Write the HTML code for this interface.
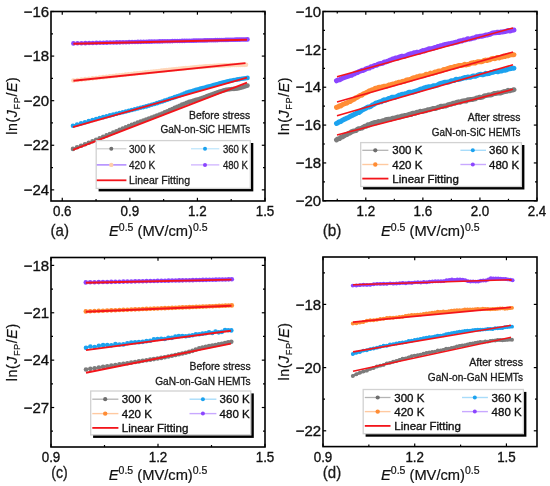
<!DOCTYPE html><html><head><meta charset="utf-8"><style>html,body{margin:0;padding:0;background:#fff}svg{display:block;will-change:transform;filter:blur(0.25px)}</style></head><body><svg width="550" height="486" viewBox="0 0 550 486" font-family='"Liberation Sans", sans-serif'><rect width="550" height="486" fill="#fff"/><polyline points="73.00,148.90 77.10,147.30 81.10,145.74 84.99,144.23 88.79,142.74 92.51,141.26 96.14,139.79 99.69,138.32 103.18,136.86 106.59,135.41 109.94,133.98 113.23,132.58 116.47,131.20 119.65,129.86 122.78,128.55 125.86,127.27 128.89,126.04 131.88,124.85 134.82,123.71 137.72,122.62 140.59,121.57 143.41,120.54 146.20,119.53 148.96,118.54 151.68,117.54 154.36,116.54 157.02,115.52 159.65,114.49 162.24,113.43 164.81,112.34 167.35,111.23 169.87,110.10 172.35,108.98 174.82,107.86 177.26,106.77 179.67,105.70 182.07,104.67 184.44,103.68 186.79,102.75 189.11,101.91 191.42,101.18 193.71,100.51 195.98,99.86 198.23,99.20 200.46,98.49 202.67,97.74 204.86,96.96 207.04,96.17 209.20,95.37 211.35,94.58 213.47,93.80 215.59,93.05 217.68,92.32 219.77,91.62 221.83,90.98 223.89,90.38 225.93,89.85 227.95,89.49 229.96,89.24 231.96,89.06 233.95,88.89 235.92,88.69 237.88,88.42 239.83,88.02 241.76,87.48 243.69,86.86 245.60,86.21 247.50,85.60" fill="none" stroke="#7c7c7c" stroke-width="1.4" stroke-linejoin="round" stroke-linecap="round" /><circle cx="73.00" cy="148.90" r="2.3" fill="#7c7c7c"/><circle cx="77.10" cy="147.30" r="2.3" fill="#7c7c7c"/><circle cx="81.10" cy="145.74" r="2.3" fill="#7c7c7c"/><circle cx="84.99" cy="144.23" r="2.3" fill="#7c7c7c"/><circle cx="88.79" cy="142.74" r="2.3" fill="#7c7c7c"/><circle cx="92.51" cy="141.26" r="2.3" fill="#7c7c7c"/><circle cx="96.14" cy="139.79" r="2.3" fill="#7c7c7c"/><circle cx="99.69" cy="138.32" r="2.3" fill="#7c7c7c"/><circle cx="103.18" cy="136.86" r="2.3" fill="#7c7c7c"/><circle cx="106.59" cy="135.41" r="2.3" fill="#7c7c7c"/><circle cx="109.94" cy="133.98" r="2.3" fill="#7c7c7c"/><circle cx="113.23" cy="132.58" r="2.3" fill="#7c7c7c"/><circle cx="116.47" cy="131.20" r="2.3" fill="#7c7c7c"/><circle cx="119.65" cy="129.86" r="2.3" fill="#7c7c7c"/><circle cx="122.78" cy="128.55" r="2.3" fill="#7c7c7c"/><circle cx="125.86" cy="127.27" r="2.3" fill="#7c7c7c"/><circle cx="128.89" cy="126.04" r="2.3" fill="#7c7c7c"/><circle cx="131.88" cy="124.85" r="2.3" fill="#7c7c7c"/><circle cx="134.82" cy="123.71" r="2.3" fill="#7c7c7c"/><circle cx="137.72" cy="122.62" r="2.3" fill="#7c7c7c"/><circle cx="140.59" cy="121.57" r="2.3" fill="#7c7c7c"/><circle cx="143.41" cy="120.54" r="2.3" fill="#7c7c7c"/><circle cx="146.20" cy="119.53" r="2.3" fill="#7c7c7c"/><circle cx="148.96" cy="118.54" r="2.3" fill="#7c7c7c"/><circle cx="151.68" cy="117.54" r="2.3" fill="#7c7c7c"/><circle cx="154.36" cy="116.54" r="2.3" fill="#7c7c7c"/><circle cx="157.02" cy="115.52" r="2.3" fill="#7c7c7c"/><circle cx="159.65" cy="114.49" r="2.3" fill="#7c7c7c"/><circle cx="162.24" cy="113.43" r="2.3" fill="#7c7c7c"/><circle cx="164.81" cy="112.34" r="2.3" fill="#7c7c7c"/><circle cx="167.35" cy="111.23" r="2.3" fill="#7c7c7c"/><circle cx="169.87" cy="110.10" r="2.3" fill="#7c7c7c"/><circle cx="172.35" cy="108.98" r="2.3" fill="#7c7c7c"/><circle cx="174.82" cy="107.86" r="2.3" fill="#7c7c7c"/><circle cx="177.26" cy="106.77" r="2.3" fill="#7c7c7c"/><circle cx="179.67" cy="105.70" r="2.3" fill="#7c7c7c"/><circle cx="182.07" cy="104.67" r="2.3" fill="#7c7c7c"/><circle cx="184.44" cy="103.68" r="2.3" fill="#7c7c7c"/><circle cx="186.79" cy="102.75" r="2.3" fill="#7c7c7c"/><circle cx="189.11" cy="101.91" r="2.3" fill="#7c7c7c"/><circle cx="191.42" cy="101.18" r="2.3" fill="#7c7c7c"/><circle cx="193.71" cy="100.51" r="2.3" fill="#7c7c7c"/><circle cx="195.98" cy="99.86" r="2.3" fill="#7c7c7c"/><circle cx="198.23" cy="99.20" r="2.3" fill="#7c7c7c"/><circle cx="200.46" cy="98.49" r="2.3" fill="#7c7c7c"/><circle cx="202.67" cy="97.74" r="2.3" fill="#7c7c7c"/><circle cx="204.86" cy="96.96" r="2.3" fill="#7c7c7c"/><circle cx="207.04" cy="96.17" r="2.3" fill="#7c7c7c"/><circle cx="209.20" cy="95.37" r="2.3" fill="#7c7c7c"/><circle cx="211.35" cy="94.58" r="2.3" fill="#7c7c7c"/><circle cx="213.47" cy="93.80" r="2.3" fill="#7c7c7c"/><circle cx="215.59" cy="93.05" r="2.3" fill="#7c7c7c"/><circle cx="217.68" cy="92.32" r="2.3" fill="#7c7c7c"/><circle cx="219.77" cy="91.62" r="2.3" fill="#7c7c7c"/><circle cx="221.83" cy="90.98" r="2.3" fill="#7c7c7c"/><circle cx="223.89" cy="90.38" r="2.3" fill="#7c7c7c"/><circle cx="225.93" cy="89.85" r="2.3" fill="#7c7c7c"/><circle cx="227.95" cy="89.49" r="2.3" fill="#7c7c7c"/><circle cx="229.96" cy="89.24" r="2.3" fill="#7c7c7c"/><circle cx="231.96" cy="89.06" r="2.3" fill="#7c7c7c"/><circle cx="233.95" cy="88.89" r="2.3" fill="#7c7c7c"/><circle cx="235.92" cy="88.69" r="2.3" fill="#7c7c7c"/><circle cx="237.88" cy="88.42" r="2.3" fill="#7c7c7c"/><circle cx="239.83" cy="88.02" r="2.3" fill="#7c7c7c"/><circle cx="241.76" cy="87.48" r="2.3" fill="#7c7c7c"/><circle cx="243.69" cy="86.86" r="2.3" fill="#7c7c7c"/><circle cx="245.60" cy="86.21" r="2.3" fill="#7c7c7c"/><circle cx="247.50" cy="85.60" r="2.3" fill="#7c7c7c"/><polyline points="73.00,125.70 77.10,124.51 81.10,123.34 84.99,122.20 88.79,121.10 92.51,120.03 96.14,119.02 99.69,118.05 103.18,117.14 106.59,116.26 109.94,115.42 113.23,114.60 116.47,113.80 119.65,113.02 122.78,112.25 125.86,111.49 128.89,110.73 131.88,109.97 134.82,109.24 137.72,108.53 140.59,107.82 143.41,107.11 146.20,106.38 148.96,105.62 151.68,104.82 154.36,104.00 157.02,103.17 159.65,102.32 162.24,101.46 164.81,100.60 167.35,99.73 169.87,98.87 172.35,98.01 174.82,97.16 177.26,96.31 179.67,95.44 182.07,94.49 184.44,93.55 186.79,92.67 189.11,91.90 191.42,91.19 193.71,90.52 195.98,89.89 198.23,89.27 200.46,88.67 202.67,88.08 204.86,87.48 207.04,86.88 209.20,86.29 211.35,85.69 213.47,85.10 215.59,84.52 217.68,83.95 219.77,83.39 221.83,82.85 223.89,82.32 225.93,81.81 227.95,81.33 229.96,80.86 231.96,80.43 233.95,80.05 235.92,79.70 237.88,79.38 239.83,79.08 241.76,78.79 243.69,78.51 245.60,78.21 247.50,77.90" fill="none" stroke="#1ba2ef" stroke-width="1.4" stroke-linejoin="round" stroke-linecap="round" /><circle cx="73.00" cy="125.70" r="2.3" fill="#1ba2ef"/><circle cx="77.10" cy="124.51" r="2.3" fill="#1ba2ef"/><circle cx="81.10" cy="123.34" r="2.3" fill="#1ba2ef"/><circle cx="84.99" cy="122.20" r="2.3" fill="#1ba2ef"/><circle cx="88.79" cy="121.10" r="2.3" fill="#1ba2ef"/><circle cx="92.51" cy="120.03" r="2.3" fill="#1ba2ef"/><circle cx="96.14" cy="119.02" r="2.3" fill="#1ba2ef"/><circle cx="99.69" cy="118.05" r="2.3" fill="#1ba2ef"/><circle cx="103.18" cy="117.14" r="2.3" fill="#1ba2ef"/><circle cx="106.59" cy="116.26" r="2.3" fill="#1ba2ef"/><circle cx="109.94" cy="115.42" r="2.3" fill="#1ba2ef"/><circle cx="113.23" cy="114.60" r="2.3" fill="#1ba2ef"/><circle cx="116.47" cy="113.80" r="2.3" fill="#1ba2ef"/><circle cx="119.65" cy="113.02" r="2.3" fill="#1ba2ef"/><circle cx="122.78" cy="112.25" r="2.3" fill="#1ba2ef"/><circle cx="125.86" cy="111.49" r="2.3" fill="#1ba2ef"/><circle cx="128.89" cy="110.73" r="2.3" fill="#1ba2ef"/><circle cx="131.88" cy="109.97" r="2.3" fill="#1ba2ef"/><circle cx="134.82" cy="109.24" r="2.3" fill="#1ba2ef"/><circle cx="137.72" cy="108.53" r="2.3" fill="#1ba2ef"/><circle cx="140.59" cy="107.82" r="2.3" fill="#1ba2ef"/><circle cx="143.41" cy="107.11" r="2.3" fill="#1ba2ef"/><circle cx="146.20" cy="106.38" r="2.3" fill="#1ba2ef"/><circle cx="148.96" cy="105.62" r="2.3" fill="#1ba2ef"/><circle cx="151.68" cy="104.82" r="2.3" fill="#1ba2ef"/><circle cx="154.36" cy="104.00" r="2.3" fill="#1ba2ef"/><circle cx="157.02" cy="103.17" r="2.3" fill="#1ba2ef"/><circle cx="159.65" cy="102.32" r="2.3" fill="#1ba2ef"/><circle cx="162.24" cy="101.46" r="2.3" fill="#1ba2ef"/><circle cx="164.81" cy="100.60" r="2.3" fill="#1ba2ef"/><circle cx="167.35" cy="99.73" r="2.3" fill="#1ba2ef"/><circle cx="169.87" cy="98.87" r="2.3" fill="#1ba2ef"/><circle cx="172.35" cy="98.01" r="2.3" fill="#1ba2ef"/><circle cx="174.82" cy="97.16" r="2.3" fill="#1ba2ef"/><circle cx="177.26" cy="96.31" r="2.3" fill="#1ba2ef"/><circle cx="179.67" cy="95.44" r="2.3" fill="#1ba2ef"/><circle cx="182.07" cy="94.49" r="2.3" fill="#1ba2ef"/><circle cx="184.44" cy="93.55" r="2.3" fill="#1ba2ef"/><circle cx="186.79" cy="92.67" r="2.3" fill="#1ba2ef"/><circle cx="189.11" cy="91.90" r="2.3" fill="#1ba2ef"/><circle cx="191.42" cy="91.19" r="2.3" fill="#1ba2ef"/><circle cx="193.71" cy="90.52" r="2.3" fill="#1ba2ef"/><circle cx="195.98" cy="89.89" r="2.3" fill="#1ba2ef"/><circle cx="198.23" cy="89.27" r="2.3" fill="#1ba2ef"/><circle cx="200.46" cy="88.67" r="2.3" fill="#1ba2ef"/><circle cx="202.67" cy="88.08" r="2.3" fill="#1ba2ef"/><circle cx="204.86" cy="87.48" r="2.3" fill="#1ba2ef"/><circle cx="207.04" cy="86.88" r="2.3" fill="#1ba2ef"/><circle cx="209.20" cy="86.29" r="2.3" fill="#1ba2ef"/><circle cx="211.35" cy="85.69" r="2.3" fill="#1ba2ef"/><circle cx="213.47" cy="85.10" r="2.3" fill="#1ba2ef"/><circle cx="215.59" cy="84.52" r="2.3" fill="#1ba2ef"/><circle cx="217.68" cy="83.95" r="2.3" fill="#1ba2ef"/><circle cx="219.77" cy="83.39" r="2.3" fill="#1ba2ef"/><circle cx="221.83" cy="82.85" r="2.3" fill="#1ba2ef"/><circle cx="223.89" cy="82.32" r="2.3" fill="#1ba2ef"/><circle cx="225.93" cy="81.81" r="2.3" fill="#1ba2ef"/><circle cx="227.95" cy="81.33" r="2.3" fill="#1ba2ef"/><circle cx="229.96" cy="80.86" r="2.3" fill="#1ba2ef"/><circle cx="231.96" cy="80.43" r="2.3" fill="#1ba2ef"/><circle cx="233.95" cy="80.05" r="2.3" fill="#1ba2ef"/><circle cx="235.92" cy="79.70" r="2.3" fill="#1ba2ef"/><circle cx="237.88" cy="79.38" r="2.3" fill="#1ba2ef"/><circle cx="239.83" cy="79.08" r="2.3" fill="#1ba2ef"/><circle cx="241.76" cy="78.79" r="2.3" fill="#1ba2ef"/><circle cx="243.69" cy="78.51" r="2.3" fill="#1ba2ef"/><circle cx="245.60" cy="78.21" r="2.3" fill="#1ba2ef"/><circle cx="247.50" cy="77.90" r="2.3" fill="#1ba2ef"/><polyline points="73.40,80.50 77.44,80.05 81.37,79.61 85.21,79.17 88.96,78.75 92.62,78.34 96.20,77.93 99.71,77.53 103.14,77.14 106.51,76.76 109.82,76.39 113.07,76.02 116.27,75.66 119.41,75.30 122.50,74.95 125.54,74.61 128.54,74.28 131.49,73.94 134.40,73.62 137.28,73.30 140.11,72.99 142.90,72.68 145.66,72.37 148.39,72.08 151.08,71.78 153.74,71.49 156.37,71.21 158.96,70.93 161.53,70.65 164.08,70.38 166.59,70.12 169.08,69.85 171.54,69.60 173.98,69.34 176.40,69.09 178.79,68.85 181.16,68.61 183.51,68.38 185.83,68.16 188.14,67.93 190.43,67.72 192.69,67.51 194.94,67.31 197.17,67.11 199.38,66.92 201.57,66.73 203.74,66.55 205.90,66.39 208.04,66.24 210.17,66.10 212.27,65.97 214.37,65.85 216.45,65.73 218.51,65.63 220.56,65.53 222.59,65.44 224.61,65.35 226.62,65.26 228.62,65.18 230.60,65.10 232.56,65.04 234.52,64.99 236.46,64.96 238.39,64.92 240.31,64.90 242.22,64.87 244.12,64.84 246.00,64.80" fill="none" stroke="#ffd6b8" stroke-width="1.4" stroke-linejoin="round" stroke-linecap="round" /><circle cx="73.40" cy="80.50" r="2.3" fill="#ffd6b8"/><circle cx="77.44" cy="80.05" r="2.3" fill="#ffd6b8"/><circle cx="81.37" cy="79.61" r="2.3" fill="#ffd6b8"/><circle cx="85.21" cy="79.17" r="2.3" fill="#ffd6b8"/><circle cx="88.96" cy="78.75" r="2.3" fill="#ffd6b8"/><circle cx="92.62" cy="78.34" r="2.3" fill="#ffd6b8"/><circle cx="96.20" cy="77.93" r="2.3" fill="#ffd6b8"/><circle cx="99.71" cy="77.53" r="2.3" fill="#ffd6b8"/><circle cx="103.14" cy="77.14" r="2.3" fill="#ffd6b8"/><circle cx="106.51" cy="76.76" r="2.3" fill="#ffd6b8"/><circle cx="109.82" cy="76.39" r="2.3" fill="#ffd6b8"/><circle cx="113.07" cy="76.02" r="2.3" fill="#ffd6b8"/><circle cx="116.27" cy="75.66" r="2.3" fill="#ffd6b8"/><circle cx="119.41" cy="75.30" r="2.3" fill="#ffd6b8"/><circle cx="122.50" cy="74.95" r="2.3" fill="#ffd6b8"/><circle cx="125.54" cy="74.61" r="2.3" fill="#ffd6b8"/><circle cx="128.54" cy="74.28" r="2.3" fill="#ffd6b8"/><circle cx="131.49" cy="73.94" r="2.3" fill="#ffd6b8"/><circle cx="134.40" cy="73.62" r="2.3" fill="#ffd6b8"/><circle cx="137.28" cy="73.30" r="2.3" fill="#ffd6b8"/><circle cx="140.11" cy="72.99" r="2.3" fill="#ffd6b8"/><circle cx="142.90" cy="72.68" r="2.3" fill="#ffd6b8"/><circle cx="145.66" cy="72.37" r="2.3" fill="#ffd6b8"/><circle cx="148.39" cy="72.08" r="2.3" fill="#ffd6b8"/><circle cx="151.08" cy="71.78" r="2.3" fill="#ffd6b8"/><circle cx="153.74" cy="71.49" r="2.3" fill="#ffd6b8"/><circle cx="156.37" cy="71.21" r="2.3" fill="#ffd6b8"/><circle cx="158.96" cy="70.93" r="2.3" fill="#ffd6b8"/><circle cx="161.53" cy="70.65" r="2.3" fill="#ffd6b8"/><circle cx="164.08" cy="70.38" r="2.3" fill="#ffd6b8"/><circle cx="166.59" cy="70.12" r="2.3" fill="#ffd6b8"/><circle cx="169.08" cy="69.85" r="2.3" fill="#ffd6b8"/><circle cx="171.54" cy="69.60" r="2.3" fill="#ffd6b8"/><circle cx="173.98" cy="69.34" r="2.3" fill="#ffd6b8"/><circle cx="176.40" cy="69.09" r="2.3" fill="#ffd6b8"/><circle cx="178.79" cy="68.85" r="2.3" fill="#ffd6b8"/><circle cx="181.16" cy="68.61" r="2.3" fill="#ffd6b8"/><circle cx="183.51" cy="68.38" r="2.3" fill="#ffd6b8"/><circle cx="185.83" cy="68.16" r="2.3" fill="#ffd6b8"/><circle cx="188.14" cy="67.93" r="2.3" fill="#ffd6b8"/><circle cx="190.43" cy="67.72" r="2.3" fill="#ffd6b8"/><circle cx="192.69" cy="67.51" r="2.3" fill="#ffd6b8"/><circle cx="194.94" cy="67.31" r="2.3" fill="#ffd6b8"/><circle cx="197.17" cy="67.11" r="2.3" fill="#ffd6b8"/><circle cx="199.38" cy="66.92" r="2.3" fill="#ffd6b8"/><circle cx="201.57" cy="66.73" r="2.3" fill="#ffd6b8"/><circle cx="203.74" cy="66.55" r="2.3" fill="#ffd6b8"/><circle cx="205.90" cy="66.39" r="2.3" fill="#ffd6b8"/><circle cx="208.04" cy="66.24" r="2.3" fill="#ffd6b8"/><circle cx="210.17" cy="66.10" r="2.3" fill="#ffd6b8"/><circle cx="212.27" cy="65.97" r="2.3" fill="#ffd6b8"/><circle cx="214.37" cy="65.85" r="2.3" fill="#ffd6b8"/><circle cx="216.45" cy="65.73" r="2.3" fill="#ffd6b8"/><circle cx="218.51" cy="65.63" r="2.3" fill="#ffd6b8"/><circle cx="220.56" cy="65.53" r="2.3" fill="#ffd6b8"/><circle cx="222.59" cy="65.44" r="2.3" fill="#ffd6b8"/><circle cx="224.61" cy="65.35" r="2.3" fill="#ffd6b8"/><circle cx="226.62" cy="65.26" r="2.3" fill="#ffd6b8"/><circle cx="228.62" cy="65.18" r="2.3" fill="#ffd6b8"/><circle cx="230.60" cy="65.10" r="2.3" fill="#ffd6b8"/><circle cx="232.56" cy="65.04" r="2.3" fill="#ffd6b8"/><circle cx="234.52" cy="64.99" r="2.3" fill="#ffd6b8"/><circle cx="236.46" cy="64.96" r="2.3" fill="#ffd6b8"/><circle cx="238.39" cy="64.92" r="2.3" fill="#ffd6b8"/><circle cx="240.31" cy="64.90" r="2.3" fill="#ffd6b8"/><circle cx="242.22" cy="64.87" r="2.3" fill="#ffd6b8"/><circle cx="244.12" cy="64.84" r="2.3" fill="#ffd6b8"/><circle cx="246.00" cy="64.80" r="2.3" fill="#ffd6b8"/><polyline points="73.40,43.40 77.49,43.31 81.47,43.21 85.35,43.13 89.13,43.04 92.83,42.95 96.45,42.87 100.00,42.79 103.47,42.71 106.87,42.63 110.21,42.55 113.50,42.48 116.72,42.40 119.89,42.33 123.01,42.26 126.08,42.19 129.11,42.12 132.09,42.05 135.03,41.98 137.92,41.92 140.78,41.85 143.60,41.79 146.38,41.72 149.13,41.66 151.84,41.60 154.52,41.54 157.18,41.48 159.80,41.42 162.39,41.36 164.95,41.30 167.49,41.24 170.00,41.18 172.48,41.12 174.94,41.07 177.37,41.01 179.78,40.96 182.17,40.90 184.54,40.85 186.88,40.79 189.21,40.74 191.51,40.69 193.79,40.63 196.06,40.58 198.30,40.53 200.53,40.48 202.74,40.43 204.93,40.38 207.10,40.33 209.26,40.28 211.40,40.23 213.53,40.18 215.64,40.13 217.73,40.08 219.81,40.04 221.87,39.99 223.92,39.94 225.96,39.89 227.98,39.85 229.99,39.80 231.98,39.76 233.97,39.71 235.94,39.67 237.89,39.62 239.84,39.58 241.77,39.53 243.69,39.49 245.60,39.44 247.50,39.40" fill="none" stroke="#8b45ff" stroke-width="1.4" stroke-linejoin="round" stroke-linecap="round" /><circle cx="73.40" cy="43.40" r="2.3" fill="#8b45ff"/><circle cx="77.49" cy="43.31" r="2.3" fill="#8b45ff"/><circle cx="81.47" cy="43.21" r="2.3" fill="#8b45ff"/><circle cx="85.35" cy="43.13" r="2.3" fill="#8b45ff"/><circle cx="89.13" cy="43.04" r="2.3" fill="#8b45ff"/><circle cx="92.83" cy="42.95" r="2.3" fill="#8b45ff"/><circle cx="96.45" cy="42.87" r="2.3" fill="#8b45ff"/><circle cx="100.00" cy="42.79" r="2.3" fill="#8b45ff"/><circle cx="103.47" cy="42.71" r="2.3" fill="#8b45ff"/><circle cx="106.87" cy="42.63" r="2.3" fill="#8b45ff"/><circle cx="110.21" cy="42.55" r="2.3" fill="#8b45ff"/><circle cx="113.50" cy="42.48" r="2.3" fill="#8b45ff"/><circle cx="116.72" cy="42.40" r="2.3" fill="#8b45ff"/><circle cx="119.89" cy="42.33" r="2.3" fill="#8b45ff"/><circle cx="123.01" cy="42.26" r="2.3" fill="#8b45ff"/><circle cx="126.08" cy="42.19" r="2.3" fill="#8b45ff"/><circle cx="129.11" cy="42.12" r="2.3" fill="#8b45ff"/><circle cx="132.09" cy="42.05" r="2.3" fill="#8b45ff"/><circle cx="135.03" cy="41.98" r="2.3" fill="#8b45ff"/><circle cx="137.92" cy="41.92" r="2.3" fill="#8b45ff"/><circle cx="140.78" cy="41.85" r="2.3" fill="#8b45ff"/><circle cx="143.60" cy="41.79" r="2.3" fill="#8b45ff"/><circle cx="146.38" cy="41.72" r="2.3" fill="#8b45ff"/><circle cx="149.13" cy="41.66" r="2.3" fill="#8b45ff"/><circle cx="151.84" cy="41.60" r="2.3" fill="#8b45ff"/><circle cx="154.52" cy="41.54" r="2.3" fill="#8b45ff"/><circle cx="157.18" cy="41.48" r="2.3" fill="#8b45ff"/><circle cx="159.80" cy="41.42" r="2.3" fill="#8b45ff"/><circle cx="162.39" cy="41.36" r="2.3" fill="#8b45ff"/><circle cx="164.95" cy="41.30" r="2.3" fill="#8b45ff"/><circle cx="167.49" cy="41.24" r="2.3" fill="#8b45ff"/><circle cx="170.00" cy="41.18" r="2.3" fill="#8b45ff"/><circle cx="172.48" cy="41.12" r="2.3" fill="#8b45ff"/><circle cx="174.94" cy="41.07" r="2.3" fill="#8b45ff"/><circle cx="177.37" cy="41.01" r="2.3" fill="#8b45ff"/><circle cx="179.78" cy="40.96" r="2.3" fill="#8b45ff"/><circle cx="182.17" cy="40.90" r="2.3" fill="#8b45ff"/><circle cx="184.54" cy="40.85" r="2.3" fill="#8b45ff"/><circle cx="186.88" cy="40.79" r="2.3" fill="#8b45ff"/><circle cx="189.21" cy="40.74" r="2.3" fill="#8b45ff"/><circle cx="191.51" cy="40.69" r="2.3" fill="#8b45ff"/><circle cx="193.79" cy="40.63" r="2.3" fill="#8b45ff"/><circle cx="196.06" cy="40.58" r="2.3" fill="#8b45ff"/><circle cx="198.30" cy="40.53" r="2.3" fill="#8b45ff"/><circle cx="200.53" cy="40.48" r="2.3" fill="#8b45ff"/><circle cx="202.74" cy="40.43" r="2.3" fill="#8b45ff"/><circle cx="204.93" cy="40.38" r="2.3" fill="#8b45ff"/><circle cx="207.10" cy="40.33" r="2.3" fill="#8b45ff"/><circle cx="209.26" cy="40.28" r="2.3" fill="#8b45ff"/><circle cx="211.40" cy="40.23" r="2.3" fill="#8b45ff"/><circle cx="213.53" cy="40.18" r="2.3" fill="#8b45ff"/><circle cx="215.64" cy="40.13" r="2.3" fill="#8b45ff"/><circle cx="217.73" cy="40.08" r="2.3" fill="#8b45ff"/><circle cx="219.81" cy="40.04" r="2.3" fill="#8b45ff"/><circle cx="221.87" cy="39.99" r="2.3" fill="#8b45ff"/><circle cx="223.92" cy="39.94" r="2.3" fill="#8b45ff"/><circle cx="225.96" cy="39.89" r="2.3" fill="#8b45ff"/><circle cx="227.98" cy="39.85" r="2.3" fill="#8b45ff"/><circle cx="229.99" cy="39.80" r="2.3" fill="#8b45ff"/><circle cx="231.98" cy="39.76" r="2.3" fill="#8b45ff"/><circle cx="233.97" cy="39.71" r="2.3" fill="#8b45ff"/><circle cx="235.94" cy="39.67" r="2.3" fill="#8b45ff"/><circle cx="237.89" cy="39.62" r="2.3" fill="#8b45ff"/><circle cx="239.84" cy="39.58" r="2.3" fill="#8b45ff"/><circle cx="241.77" cy="39.53" r="2.3" fill="#8b45ff"/><circle cx="243.69" cy="39.49" r="2.3" fill="#8b45ff"/><circle cx="245.60" cy="39.44" r="2.3" fill="#8b45ff"/><circle cx="247.50" cy="39.40" r="2.3" fill="#8b45ff"/><line x1="73.00" y1="149.80" x2="247.00" y2="82.70" stroke="#f3141a" stroke-width="1.9"/><line x1="73.00" y1="127.10" x2="247.00" y2="77.70" stroke="#f3141a" stroke-width="1.9"/><line x1="73.40" y1="80.80" x2="245.50" y2="63.10" stroke="#f3141a" stroke-width="1.9"/><line x1="73.40" y1="43.70" x2="247.00" y2="39.70" stroke="#f3141a" stroke-width="1.9"/><line x1="62.26" y1="201.00" x2="62.26" y2="197.80" stroke="#000" stroke-width="1.2"/><line x1="62.26" y1="11.50" x2="62.26" y2="14.70" stroke="#000" stroke-width="1.2"/><line x1="129.84" y1="201.00" x2="129.84" y2="197.80" stroke="#000" stroke-width="1.2"/><line x1="129.84" y1="11.50" x2="129.84" y2="14.70" stroke="#000" stroke-width="1.2"/><line x1="197.42" y1="201.00" x2="197.42" y2="197.80" stroke="#000" stroke-width="1.2"/><line x1="197.42" y1="11.50" x2="197.42" y2="14.70" stroke="#000" stroke-width="1.2"/><line x1="265.00" y1="201.00" x2="265.00" y2="197.80" stroke="#000" stroke-width="1.2"/><line x1="265.00" y1="11.50" x2="265.00" y2="14.70" stroke="#000" stroke-width="1.2"/><line x1="96.05" y1="201.00" x2="96.05" y2="199.00" stroke="#000" stroke-width="1.2"/><line x1="96.05" y1="11.50" x2="96.05" y2="13.50" stroke="#000" stroke-width="1.2"/><line x1="163.63" y1="201.00" x2="163.63" y2="199.00" stroke="#000" stroke-width="1.2"/><line x1="163.63" y1="11.50" x2="163.63" y2="13.50" stroke="#000" stroke-width="1.2"/><line x1="231.21" y1="201.00" x2="231.21" y2="199.00" stroke="#000" stroke-width="1.2"/><line x1="231.21" y1="11.50" x2="231.21" y2="13.50" stroke="#000" stroke-width="1.2"/><line x1="51.00" y1="11.50" x2="54.20" y2="11.50" stroke="#000" stroke-width="1.2"/><line x1="265.00" y1="11.50" x2="261.80" y2="11.50" stroke="#000" stroke-width="1.2"/><line x1="51.00" y1="56.09" x2="54.20" y2="56.09" stroke="#000" stroke-width="1.2"/><line x1="265.00" y1="56.09" x2="261.80" y2="56.09" stroke="#000" stroke-width="1.2"/><line x1="51.00" y1="100.68" x2="54.20" y2="100.68" stroke="#000" stroke-width="1.2"/><line x1="265.00" y1="100.68" x2="261.80" y2="100.68" stroke="#000" stroke-width="1.2"/><line x1="51.00" y1="145.26" x2="54.20" y2="145.26" stroke="#000" stroke-width="1.2"/><line x1="265.00" y1="145.26" x2="261.80" y2="145.26" stroke="#000" stroke-width="1.2"/><line x1="51.00" y1="189.85" x2="54.20" y2="189.85" stroke="#000" stroke-width="1.2"/><line x1="265.00" y1="189.85" x2="261.80" y2="189.85" stroke="#000" stroke-width="1.2"/><line x1="51.00" y1="33.79" x2="53.00" y2="33.79" stroke="#000" stroke-width="1.2"/><line x1="265.00" y1="33.79" x2="263.00" y2="33.79" stroke="#000" stroke-width="1.2"/><line x1="51.00" y1="78.38" x2="53.00" y2="78.38" stroke="#000" stroke-width="1.2"/><line x1="265.00" y1="78.38" x2="263.00" y2="78.38" stroke="#000" stroke-width="1.2"/><line x1="51.00" y1="122.97" x2="53.00" y2="122.97" stroke="#000" stroke-width="1.2"/><line x1="265.00" y1="122.97" x2="263.00" y2="122.97" stroke="#000" stroke-width="1.2"/><line x1="51.00" y1="167.56" x2="53.00" y2="167.56" stroke="#000" stroke-width="1.2"/><line x1="265.00" y1="167.56" x2="263.00" y2="167.56" stroke="#000" stroke-width="1.2"/><rect x="51" y="11.5" width="214" height="189.5" fill="none" stroke="#000" stroke-width="1.6"/><text x="62.26" y="216.10" font-size="14.2" text-anchor="middle" textLength="18.6" lengthAdjust="spacingAndGlyphs" fill="#111" stroke="#111" stroke-width="0.35">0.6</text><text x="129.84" y="216.10" font-size="14.2" text-anchor="middle" textLength="18.6" lengthAdjust="spacingAndGlyphs" fill="#111" stroke="#111" stroke-width="0.35">0.9</text><text x="197.42" y="216.10" font-size="14.2" text-anchor="middle" textLength="18.6" lengthAdjust="spacingAndGlyphs" fill="#111" stroke="#111" stroke-width="0.35">1.2</text><text x="265.00" y="216.10" font-size="14.2" text-anchor="middle" textLength="18.6" lengthAdjust="spacingAndGlyphs" fill="#111" stroke="#111" stroke-width="0.35">1.5</text><text x="49.10" y="16.70" font-size="15" text-anchor="end" fill="#111" stroke="#111" stroke-width="0.35">−16</text><text x="49.10" y="61.29" font-size="15" text-anchor="end" fill="#111" stroke="#111" stroke-width="0.35">−18</text><text x="49.10" y="105.88" font-size="15" text-anchor="end" fill="#111" stroke="#111" stroke-width="0.35">−20</text><text x="49.10" y="150.46" font-size="15" text-anchor="end" fill="#111" stroke="#111" stroke-width="0.35">−22</text><text x="49.10" y="195.05" font-size="15" text-anchor="end" fill="#111" stroke="#111" stroke-width="0.35">−24</text><text x="109" y="236.3" font-size="14.7" fill="#111" stroke="#111" stroke-width="0.2"><tspan font-style="italic">E</tspan><tspan font-size="10.5" dy="-5.6">0.5</tspan><tspan dy="5.6"> (MV/cm)</tspan><tspan font-size="10.5" dy="-5.6">0.5</tspan></text><text transform="translate(16.8,106) rotate(-90)" x="0" y="0" font-size="14.2" text-anchor="middle" fill="#111" stroke="#111" stroke-width="0.2" textLength="57.5" lengthAdjust="spacing">ln(<tspan font-style="italic">J</tspan><tspan font-size="9.2" dy="3.4">FP</tspan><tspan dy="-3.4">/</tspan><tspan font-style="italic">E</tspan>)</text><text x="50.60" y="235.80" font-size="17" text-anchor="start" textLength="18.4" lengthAdjust="spacingAndGlyphs" fill="#1a1a1a" stroke="#1a1a1a" stroke-width="0.3">(a)</text><text x="250.20" y="118.60" font-size="10.4" text-anchor="end" textLength="61.2" lengthAdjust="spacingAndGlyphs" fill="#1a1a1a" stroke="#1a1a1a" stroke-width="0.3">Before stress</text><text x="250.20" y="133.00" font-size="10.4" text-anchor="end" textLength="89.8" lengthAdjust="spacingAndGlyphs" fill="#1a1a1a" stroke="#1a1a1a" stroke-width="0.3">GaN-on-SiC HEMTs</text><polyline points="336.50,139.82 337.99,138.88 339.48,138.61 340.97,137.25 342.47,136.92 343.96,135.97 345.45,134.88 346.94,134.56 348.43,133.33 349.92,132.98 351.42,131.89 352.91,131.21 354.40,130.86 355.89,130.59 357.38,129.22 358.87,128.65 360.37,128.41 361.86,128.09 363.35,127.09 364.84,126.30 366.33,126.28 367.82,124.78 369.32,125.04 370.81,123.94 372.30,123.29 373.79,122.79 375.28,122.54 376.77,122.64 378.26,121.62 379.76,121.66 381.25,121.36 382.74,120.76 384.23,120.59 385.72,119.77 387.21,119.43 388.71,119.22 390.20,119.33 391.69,118.71 393.18,118.22 394.67,118.12 396.16,117.62 397.66,117.10 399.15,117.22 400.64,116.76 402.13,115.94 403.62,115.90 405.11,115.48 406.61,115.47 408.10,114.95 409.59,114.15 411.08,114.47 412.57,113.24 414.06,113.18 415.55,113.15 417.05,112.18 418.54,112.15 420.03,111.33 421.52,111.59 423.01,111.32 424.50,110.76 426.00,110.70 427.49,109.77 428.98,109.78 430.47,109.31 431.96,108.93 433.45,108.44 434.95,108.45 436.44,108.19 437.93,107.35 439.42,107.18 440.91,106.21 442.40,106.48 443.89,106.06 445.39,106.04 446.88,105.51 448.37,104.61 449.86,104.35 451.35,104.27 452.84,103.26 454.34,103.34 455.83,102.68 457.32,102.28 458.81,101.86 460.30,102.21 461.79,101.22 463.29,100.98 464.78,100.77 466.27,100.90 467.76,99.75 469.25,99.77 470.74,99.52 472.24,99.50 473.73,99.09 475.22,98.78 476.71,97.85 478.20,97.63 479.69,97.23 481.18,97.40 482.68,97.13 484.17,95.97 485.66,95.65 487.15,95.35 488.64,95.01 490.13,94.91 491.63,94.67 493.12,93.99 494.61,93.39 496.10,93.46 497.59,93.06 499.08,92.91 500.58,92.96 502.07,92.35 503.56,91.83 505.05,91.59 506.54,91.30 508.03,90.33 509.53,90.84 511.02,90.37 512.51,90.12 514.00,89.70" fill="none" stroke="#7c7c7c" stroke-width="5.0" stroke-linejoin="round" stroke-linecap="round" /><polyline points="336.50,123.39 337.99,122.67 339.48,121.65 340.97,121.46 342.47,120.16 343.96,119.44 345.45,118.86 346.94,118.09 348.43,117.53 349.92,116.51 351.42,115.71 352.91,115.10 354.40,114.28 355.89,113.75 357.38,112.60 358.87,112.62 360.37,111.54 361.86,110.24 363.35,109.52 364.84,108.80 366.33,108.01 367.82,106.98 369.32,106.95 370.81,106.36 372.30,105.13 373.79,104.47 375.28,103.42 376.77,102.81 378.26,102.43 379.76,101.76 381.25,101.75 382.74,100.52 384.23,99.83 385.72,100.23 387.21,99.29 388.71,98.40 390.20,98.29 391.69,97.29 393.18,97.31 394.67,97.30 396.16,96.72 397.66,96.10 399.15,95.22 400.64,94.88 402.13,94.25 403.62,94.42 405.11,93.75 406.61,93.58 408.10,92.71 409.59,92.18 411.08,92.35 412.57,92.11 414.06,91.55 415.55,91.09 417.05,90.68 418.54,90.18 420.03,89.24 421.52,89.11 423.01,88.52 424.50,87.78 426.00,87.35 427.49,87.18 428.98,86.74 430.47,86.75 431.96,86.60 433.45,85.67 434.95,85.74 436.44,85.38 437.93,84.93 439.42,83.93 440.91,83.38 442.40,82.98 443.89,82.54 445.39,82.15 446.88,82.17 448.37,82.05 449.86,81.60 451.35,80.85 452.84,80.64 454.34,80.41 455.83,79.31 457.32,79.53 458.81,79.44 460.30,78.99 461.79,78.66 463.29,78.09 464.78,77.50 466.27,77.83 467.76,77.10 469.25,77.29 470.74,77.18 472.24,76.31 473.73,76.02 475.22,76.27 476.71,75.75 478.20,74.89 479.69,74.55 481.18,74.28 482.68,74.74 484.17,74.34 485.66,73.38 487.15,73.77 488.64,73.62 490.13,73.00 491.63,72.40 493.12,72.30 494.61,71.59 496.10,71.17 497.59,71.83 499.08,71.22 500.58,70.80 502.07,70.91 503.56,70.11 505.05,70.25 506.54,69.91 508.03,69.00 509.53,68.74 511.02,68.49 512.51,68.14 514.00,68.19" fill="none" stroke="#1ba2ef" stroke-width="5.0" stroke-linejoin="round" stroke-linecap="round" /><polyline points="336.50,107.36 337.99,106.81 339.48,105.81 340.97,105.89 342.47,104.63 343.96,104.03 345.45,103.45 346.94,103.06 348.43,101.87 349.92,101.64 351.42,100.50 352.91,99.79 354.40,99.02 355.89,97.73 357.38,97.34 358.87,96.26 360.37,95.25 361.86,95.21 363.35,93.76 364.84,93.25 366.33,92.71 367.82,91.79 369.32,90.84 370.81,90.36 372.30,89.78 373.79,89.44 375.28,88.26 376.77,88.25 378.26,87.51 379.76,87.14 381.25,87.26 382.74,86.63 384.23,86.32 385.72,86.16 387.21,85.95 388.71,85.09 390.20,84.85 391.69,84.32 393.18,83.91 394.67,83.67 396.16,83.01 397.66,82.67 399.15,82.19 400.64,82.24 402.13,81.57 403.62,81.33 405.11,80.97 406.61,79.87 408.10,79.75 409.59,79.72 411.08,79.19 412.57,78.07 414.06,77.64 415.55,77.54 417.05,76.75 418.54,76.50 420.03,75.92 421.52,76.10 423.01,75.80 424.50,75.50 426.00,74.35 427.49,74.50 428.98,74.03 430.47,73.09 431.96,73.41 433.45,73.08 434.95,71.92 436.44,72.23 437.93,71.26 439.42,70.94 440.91,71.03 442.40,70.46 443.89,69.39 445.39,69.25 446.88,68.94 448.37,68.37 449.86,67.83 451.35,67.57 452.84,67.60 454.34,66.52 455.83,66.69 457.32,66.23 458.81,65.47 460.30,65.47 461.79,65.46 463.29,65.05 464.78,64.31 466.27,64.95 467.76,64.47 469.25,64.37 470.74,63.22 472.24,63.08 473.73,62.55 475.22,62.98 476.71,62.15 478.20,61.69 479.69,61.66 481.18,61.82 482.68,61.41 484.17,60.52 485.66,60.09 487.15,60.53 488.64,59.86 490.13,59.66 491.63,58.72 493.12,58.36 494.61,58.66 496.10,58.07 497.59,57.39 499.08,57.92 500.58,57.29 502.07,57.13 503.56,56.08 505.05,56.53 506.54,55.41 508.03,55.87 509.53,55.14 511.02,54.69 512.51,54.58 514.00,54.63" fill="none" stroke="#ff8c34" stroke-width="5.0" stroke-linejoin="round" stroke-linecap="round" /><polyline points="336.50,80.77 337.99,80.04 339.48,79.85 340.97,78.98 342.47,78.27 343.96,77.73 345.45,77.04 346.94,76.60 348.43,76.12 349.92,75.53 351.42,75.38 352.91,74.31 354.40,73.92 355.89,72.98 357.38,72.53 358.87,71.57 360.37,71.17 361.86,70.31 363.35,70.39 364.84,69.58 366.33,68.60 367.82,68.27 369.32,68.13 370.81,66.71 372.30,66.84 373.79,65.89 375.28,65.39 376.77,65.18 378.26,64.19 379.76,63.77 381.25,63.42 382.74,63.19 384.23,62.04 385.72,62.02 387.21,61.40 388.71,60.84 390.20,60.12 391.69,59.59 393.18,58.82 394.67,58.43 396.16,57.91 397.66,58.13 399.15,57.19 400.64,56.66 402.13,56.14 403.62,56.46 405.11,56.06 406.61,55.43 408.10,54.62 409.59,54.16 411.08,53.79 412.57,53.54 414.06,52.83 415.55,52.72 417.05,52.14 418.54,52.45 420.03,52.07 421.52,51.26 423.01,50.58 424.50,50.92 426.00,49.88 427.49,49.54 428.98,48.81 430.47,48.80 431.96,48.51 433.45,48.14 434.95,47.44 436.44,47.34 437.93,46.44 439.42,46.28 440.91,45.70 442.40,45.59 443.89,44.82 445.39,44.39 446.88,44.26 448.37,43.78 449.86,43.73 451.35,43.28 452.84,43.11 454.34,42.63 455.83,42.32 457.32,42.11 458.81,41.26 460.30,40.82 461.79,41.11 463.29,39.91 464.78,40.12 466.27,39.67 467.76,38.71 469.25,39.14 470.74,38.83 472.24,38.21 473.73,37.96 475.22,37.68 476.71,36.66 478.20,36.70 479.69,36.33 481.18,36.32 482.68,35.95 484.17,35.63 485.66,35.06 487.15,35.04 488.64,34.50 490.13,34.19 491.63,33.41 493.12,32.90 494.61,32.71 496.10,32.65 497.59,32.13 499.08,32.61 500.58,32.09 502.07,31.93 503.56,31.70 505.05,31.53 506.54,31.12 508.03,30.42 509.53,30.99 511.02,30.72 512.51,30.24 514.00,30.04" fill="none" stroke="#8b45ff" stroke-width="5.0" stroke-linejoin="round" stroke-linecap="round" /><line x1="337.00" y1="135.10" x2="513.00" y2="89.30" stroke="#f3141a" stroke-width="1.6"/><line x1="337.00" y1="115.80" x2="513.00" y2="64.80" stroke="#f3141a" stroke-width="1.6"/><line x1="337.00" y1="101.90" x2="513.00" y2="52.10" stroke="#f3141a" stroke-width="1.6"/><line x1="337.00" y1="76.70" x2="513.00" y2="27.90" stroke="#f3141a" stroke-width="1.6"/><line x1="365.80" y1="200.80" x2="365.80" y2="197.60" stroke="#000" stroke-width="1.2"/><line x1="365.80" y1="11.50" x2="365.80" y2="14.70" stroke="#000" stroke-width="1.2"/><line x1="422.87" y1="200.80" x2="422.87" y2="197.60" stroke="#000" stroke-width="1.2"/><line x1="422.87" y1="11.50" x2="422.87" y2="14.70" stroke="#000" stroke-width="1.2"/><line x1="479.93" y1="200.80" x2="479.93" y2="197.60" stroke="#000" stroke-width="1.2"/><line x1="479.93" y1="11.50" x2="479.93" y2="14.70" stroke="#000" stroke-width="1.2"/><line x1="537.00" y1="200.80" x2="537.00" y2="197.60" stroke="#000" stroke-width="1.2"/><line x1="537.00" y1="11.50" x2="537.00" y2="14.70" stroke="#000" stroke-width="1.2"/><line x1="337.27" y1="200.80" x2="337.27" y2="198.80" stroke="#000" stroke-width="1.2"/><line x1="337.27" y1="11.50" x2="337.27" y2="13.50" stroke="#000" stroke-width="1.2"/><line x1="394.33" y1="200.80" x2="394.33" y2="198.80" stroke="#000" stroke-width="1.2"/><line x1="394.33" y1="11.50" x2="394.33" y2="13.50" stroke="#000" stroke-width="1.2"/><line x1="451.40" y1="200.80" x2="451.40" y2="198.80" stroke="#000" stroke-width="1.2"/><line x1="451.40" y1="11.50" x2="451.40" y2="13.50" stroke="#000" stroke-width="1.2"/><line x1="508.47" y1="200.80" x2="508.47" y2="198.80" stroke="#000" stroke-width="1.2"/><line x1="508.47" y1="11.50" x2="508.47" y2="13.50" stroke="#000" stroke-width="1.2"/><line x1="323.00" y1="11.50" x2="326.20" y2="11.50" stroke="#000" stroke-width="1.2"/><line x1="537.00" y1="11.50" x2="533.80" y2="11.50" stroke="#000" stroke-width="1.2"/><line x1="323.00" y1="49.36" x2="326.20" y2="49.36" stroke="#000" stroke-width="1.2"/><line x1="537.00" y1="49.36" x2="533.80" y2="49.36" stroke="#000" stroke-width="1.2"/><line x1="323.00" y1="87.22" x2="326.20" y2="87.22" stroke="#000" stroke-width="1.2"/><line x1="537.00" y1="87.22" x2="533.80" y2="87.22" stroke="#000" stroke-width="1.2"/><line x1="323.00" y1="125.08" x2="326.20" y2="125.08" stroke="#000" stroke-width="1.2"/><line x1="537.00" y1="125.08" x2="533.80" y2="125.08" stroke="#000" stroke-width="1.2"/><line x1="323.00" y1="162.94" x2="326.20" y2="162.94" stroke="#000" stroke-width="1.2"/><line x1="537.00" y1="162.94" x2="533.80" y2="162.94" stroke="#000" stroke-width="1.2"/><line x1="323.00" y1="200.80" x2="326.20" y2="200.80" stroke="#000" stroke-width="1.2"/><line x1="537.00" y1="200.80" x2="533.80" y2="200.80" stroke="#000" stroke-width="1.2"/><line x1="323.00" y1="30.43" x2="325.00" y2="30.43" stroke="#000" stroke-width="1.2"/><line x1="537.00" y1="30.43" x2="535.00" y2="30.43" stroke="#000" stroke-width="1.2"/><line x1="323.00" y1="68.29" x2="325.00" y2="68.29" stroke="#000" stroke-width="1.2"/><line x1="537.00" y1="68.29" x2="535.00" y2="68.29" stroke="#000" stroke-width="1.2"/><line x1="323.00" y1="106.15" x2="325.00" y2="106.15" stroke="#000" stroke-width="1.2"/><line x1="537.00" y1="106.15" x2="535.00" y2="106.15" stroke="#000" stroke-width="1.2"/><line x1="323.00" y1="144.01" x2="325.00" y2="144.01" stroke="#000" stroke-width="1.2"/><line x1="537.00" y1="144.01" x2="535.00" y2="144.01" stroke="#000" stroke-width="1.2"/><line x1="323.00" y1="181.87" x2="325.00" y2="181.87" stroke="#000" stroke-width="1.2"/><line x1="537.00" y1="181.87" x2="535.00" y2="181.87" stroke="#000" stroke-width="1.2"/><rect x="323" y="11.5" width="214" height="189.3" fill="none" stroke="#000" stroke-width="1.6"/><text x="365.80" y="215.90" font-size="14.2" text-anchor="middle" textLength="18.6" lengthAdjust="spacingAndGlyphs" fill="#111" stroke="#111" stroke-width="0.35">1.2</text><text x="422.87" y="215.90" font-size="14.2" text-anchor="middle" textLength="18.6" lengthAdjust="spacingAndGlyphs" fill="#111" stroke="#111" stroke-width="0.35">1.6</text><text x="479.93" y="215.90" font-size="14.2" text-anchor="middle" textLength="18.6" lengthAdjust="spacingAndGlyphs" fill="#111" stroke="#111" stroke-width="0.35">2.0</text><text x="537.00" y="215.90" font-size="14.2" text-anchor="middle" textLength="18.6" lengthAdjust="spacingAndGlyphs" fill="#111" stroke="#111" stroke-width="0.35">2.4</text><text x="321.10" y="16.70" font-size="15" text-anchor="end" fill="#111" stroke="#111" stroke-width="0.35">−10</text><text x="321.10" y="54.56" font-size="15" text-anchor="end" fill="#111" stroke="#111" stroke-width="0.35">−12</text><text x="321.10" y="92.42" font-size="15" text-anchor="end" fill="#111" stroke="#111" stroke-width="0.35">−14</text><text x="321.10" y="130.28" font-size="15" text-anchor="end" fill="#111" stroke="#111" stroke-width="0.35">−16</text><text x="321.10" y="168.14" font-size="15" text-anchor="end" fill="#111" stroke="#111" stroke-width="0.35">−18</text><text x="321.10" y="206.00" font-size="15" text-anchor="end" fill="#111" stroke="#111" stroke-width="0.35">−20</text><text x="381" y="236.3" font-size="14.7" fill="#111" stroke="#111" stroke-width="0.2"><tspan font-style="italic">E</tspan><tspan font-size="10.5" dy="-5.6">0.5</tspan><tspan dy="5.6"> (MV/cm)</tspan><tspan font-size="10.5" dy="-5.6">0.5</tspan></text><text transform="translate(288.8,106.2) rotate(-90)" x="0" y="0" font-size="14.2" text-anchor="middle" fill="#111" stroke="#111" stroke-width="0.2" textLength="57.5" lengthAdjust="spacing">ln(<tspan font-style="italic">J</tspan><tspan font-size="9.2" dy="3.4">FP</tspan><tspan dy="-3.4">/</tspan><tspan font-style="italic">E</tspan>)</text><text x="322.70" y="235.80" font-size="17" text-anchor="start" textLength="18.8" lengthAdjust="spacingAndGlyphs" fill="#1a1a1a" stroke="#1a1a1a" stroke-width="0.3">(b)</text><text x="520.40" y="121.20" font-size="10.4" text-anchor="end" textLength="52.6" lengthAdjust="spacingAndGlyphs" fill="#1a1a1a" stroke="#1a1a1a" stroke-width="0.3">After stress</text><text x="520.40" y="136.20" font-size="10.4" text-anchor="end" textLength="88.6" lengthAdjust="spacingAndGlyphs" fill="#1a1a1a" stroke="#1a1a1a" stroke-width="0.3">GaN-on-SiC HEMTs</text><polyline points="86.00,369.50 90.35,368.84 94.64,368.18 98.89,367.53 103.09,366.89 107.24,366.25 111.34,365.62 115.40,365.00 119.42,364.39 123.40,363.78 127.34,363.18 131.24,362.58 135.10,361.99 138.93,361.40 142.72,360.81 146.47,360.24 150.19,359.66 153.88,359.08 157.54,358.49 161.17,357.88 164.76,357.23 168.33,356.55 171.87,355.82 175.38,355.06 178.86,354.31 182.32,353.53 185.75,352.71 189.15,351.85 192.53,350.85 195.88,349.59 199.21,348.38 202.52,347.48 205.80,346.78 209.06,346.16 212.30,345.57 215.52,344.96 218.72,344.32 221.89,343.68 225.05,343.05 228.18,342.42 231.30,341.80" fill="none" stroke="#7c7c7c" stroke-width="1.4" stroke-linejoin="round" stroke-linecap="round" /><circle cx="86.00" cy="369.50" r="2.3" fill="#7c7c7c"/><circle cx="90.35" cy="368.84" r="2.3" fill="#7c7c7c"/><circle cx="94.64" cy="368.18" r="2.3" fill="#7c7c7c"/><circle cx="98.89" cy="367.53" r="2.3" fill="#7c7c7c"/><circle cx="103.09" cy="366.89" r="2.3" fill="#7c7c7c"/><circle cx="107.24" cy="366.25" r="2.3" fill="#7c7c7c"/><circle cx="111.34" cy="365.62" r="2.3" fill="#7c7c7c"/><circle cx="115.40" cy="365.00" r="2.3" fill="#7c7c7c"/><circle cx="119.42" cy="364.39" r="2.3" fill="#7c7c7c"/><circle cx="123.40" cy="363.78" r="2.3" fill="#7c7c7c"/><circle cx="127.34" cy="363.18" r="2.3" fill="#7c7c7c"/><circle cx="131.24" cy="362.58" r="2.3" fill="#7c7c7c"/><circle cx="135.10" cy="361.99" r="2.3" fill="#7c7c7c"/><circle cx="138.93" cy="361.40" r="2.3" fill="#7c7c7c"/><circle cx="142.72" cy="360.81" r="2.3" fill="#7c7c7c"/><circle cx="146.47" cy="360.24" r="2.3" fill="#7c7c7c"/><circle cx="150.19" cy="359.66" r="2.3" fill="#7c7c7c"/><circle cx="153.88" cy="359.08" r="2.3" fill="#7c7c7c"/><circle cx="157.54" cy="358.49" r="2.3" fill="#7c7c7c"/><circle cx="161.17" cy="357.88" r="2.3" fill="#7c7c7c"/><circle cx="164.76" cy="357.23" r="2.3" fill="#7c7c7c"/><circle cx="168.33" cy="356.55" r="2.3" fill="#7c7c7c"/><circle cx="171.87" cy="355.82" r="2.3" fill="#7c7c7c"/><circle cx="175.38" cy="355.06" r="2.3" fill="#7c7c7c"/><circle cx="178.86" cy="354.31" r="2.3" fill="#7c7c7c"/><circle cx="182.32" cy="353.53" r="2.3" fill="#7c7c7c"/><circle cx="185.75" cy="352.71" r="2.3" fill="#7c7c7c"/><circle cx="189.15" cy="351.85" r="2.3" fill="#7c7c7c"/><circle cx="192.53" cy="350.85" r="2.3" fill="#7c7c7c"/><circle cx="195.88" cy="349.59" r="2.3" fill="#7c7c7c"/><circle cx="199.21" cy="348.38" r="2.3" fill="#7c7c7c"/><circle cx="202.52" cy="347.48" r="2.3" fill="#7c7c7c"/><circle cx="205.80" cy="346.78" r="2.3" fill="#7c7c7c"/><circle cx="209.06" cy="346.16" r="2.3" fill="#7c7c7c"/><circle cx="212.30" cy="345.57" r="2.3" fill="#7c7c7c"/><circle cx="215.52" cy="344.96" r="2.3" fill="#7c7c7c"/><circle cx="218.72" cy="344.32" r="2.3" fill="#7c7c7c"/><circle cx="221.89" cy="343.68" r="2.3" fill="#7c7c7c"/><circle cx="225.05" cy="343.05" r="2.3" fill="#7c7c7c"/><circle cx="228.18" cy="342.42" r="2.3" fill="#7c7c7c"/><circle cx="231.30" cy="341.80" r="2.3" fill="#7c7c7c"/><polyline points="86.00,347.85 90.35,346.45 94.64,347.08 98.89,345.87 103.09,345.15 107.24,345.03 111.34,345.34 115.40,344.07 119.42,344.48 123.40,344.41 127.34,343.20 131.24,342.57 135.10,342.27 138.93,342.15 142.72,341.83 146.47,341.14 150.19,340.73 153.88,339.36 157.54,339.02 161.17,338.73 164.76,339.05 168.33,337.89 171.87,337.85 175.38,336.51 178.86,336.13 182.32,336.01 185.75,336.21 189.15,335.79 192.53,335.32 195.88,334.26 199.21,334.18 202.52,333.65 205.80,333.22 209.06,332.23 212.30,333.04 215.52,331.50 218.72,332.33 221.89,331.84 225.05,329.95 228.18,330.24 231.30,330.41" fill="none" stroke="#1ba2ef" stroke-width="1.4" stroke-linejoin="round" stroke-linecap="round" /><circle cx="86.00" cy="347.85" r="2.3" fill="#1ba2ef"/><circle cx="90.35" cy="346.45" r="2.3" fill="#1ba2ef"/><circle cx="94.64" cy="347.08" r="2.3" fill="#1ba2ef"/><circle cx="98.89" cy="345.87" r="2.3" fill="#1ba2ef"/><circle cx="103.09" cy="345.15" r="2.3" fill="#1ba2ef"/><circle cx="107.24" cy="345.03" r="2.3" fill="#1ba2ef"/><circle cx="111.34" cy="345.34" r="2.3" fill="#1ba2ef"/><circle cx="115.40" cy="344.07" r="2.3" fill="#1ba2ef"/><circle cx="119.42" cy="344.48" r="2.3" fill="#1ba2ef"/><circle cx="123.40" cy="344.41" r="2.3" fill="#1ba2ef"/><circle cx="127.34" cy="343.20" r="2.3" fill="#1ba2ef"/><circle cx="131.24" cy="342.57" r="2.3" fill="#1ba2ef"/><circle cx="135.10" cy="342.27" r="2.3" fill="#1ba2ef"/><circle cx="138.93" cy="342.15" r="2.3" fill="#1ba2ef"/><circle cx="142.72" cy="341.83" r="2.3" fill="#1ba2ef"/><circle cx="146.47" cy="341.14" r="2.3" fill="#1ba2ef"/><circle cx="150.19" cy="340.73" r="2.3" fill="#1ba2ef"/><circle cx="153.88" cy="339.36" r="2.3" fill="#1ba2ef"/><circle cx="157.54" cy="339.02" r="2.3" fill="#1ba2ef"/><circle cx="161.17" cy="338.73" r="2.3" fill="#1ba2ef"/><circle cx="164.76" cy="339.05" r="2.3" fill="#1ba2ef"/><circle cx="168.33" cy="337.89" r="2.3" fill="#1ba2ef"/><circle cx="171.87" cy="337.85" r="2.3" fill="#1ba2ef"/><circle cx="175.38" cy="336.51" r="2.3" fill="#1ba2ef"/><circle cx="178.86" cy="336.13" r="2.3" fill="#1ba2ef"/><circle cx="182.32" cy="336.01" r="2.3" fill="#1ba2ef"/><circle cx="185.75" cy="336.21" r="2.3" fill="#1ba2ef"/><circle cx="189.15" cy="335.79" r="2.3" fill="#1ba2ef"/><circle cx="192.53" cy="335.32" r="2.3" fill="#1ba2ef"/><circle cx="195.88" cy="334.26" r="2.3" fill="#1ba2ef"/><circle cx="199.21" cy="334.18" r="2.3" fill="#1ba2ef"/><circle cx="202.52" cy="333.65" r="2.3" fill="#1ba2ef"/><circle cx="205.80" cy="333.22" r="2.3" fill="#1ba2ef"/><circle cx="209.06" cy="332.23" r="2.3" fill="#1ba2ef"/><circle cx="212.30" cy="333.04" r="2.3" fill="#1ba2ef"/><circle cx="215.52" cy="331.50" r="2.3" fill="#1ba2ef"/><circle cx="218.72" cy="332.33" r="2.3" fill="#1ba2ef"/><circle cx="221.89" cy="331.84" r="2.3" fill="#1ba2ef"/><circle cx="225.05" cy="329.95" r="2.3" fill="#1ba2ef"/><circle cx="228.18" cy="330.24" r="2.3" fill="#1ba2ef"/><circle cx="231.30" cy="330.41" r="2.3" fill="#1ba2ef"/><polyline points="85.80,311.40 90.17,311.22 94.49,311.04 98.76,310.87 102.98,310.69 107.15,310.52 111.28,310.35 115.36,310.19 119.40,310.02 123.40,309.85 127.36,309.69 131.28,309.53 135.16,309.37 139.01,309.21 142.82,309.06 146.59,308.90 150.33,308.75 154.04,308.60 157.71,308.44 161.36,308.29 164.97,308.15 168.55,308.00 172.11,307.85 175.63,307.71 179.13,307.56 182.60,307.42 186.05,307.28 189.47,307.14 192.86,307.00 196.23,306.86 199.58,306.72 202.90,306.59 206.19,306.45 209.47,306.32 212.72,306.18 215.95,306.05 219.16,305.92 222.35,305.79 225.52,305.66 228.67,305.53 231.80,305.40" fill="none" stroke="#ff8c34" stroke-width="1.4" stroke-linejoin="round" stroke-linecap="round" /><circle cx="85.80" cy="311.40" r="2.3" fill="#ff8c34"/><circle cx="90.17" cy="311.22" r="2.3" fill="#ff8c34"/><circle cx="94.49" cy="311.04" r="2.3" fill="#ff8c34"/><circle cx="98.76" cy="310.87" r="2.3" fill="#ff8c34"/><circle cx="102.98" cy="310.69" r="2.3" fill="#ff8c34"/><circle cx="107.15" cy="310.52" r="2.3" fill="#ff8c34"/><circle cx="111.28" cy="310.35" r="2.3" fill="#ff8c34"/><circle cx="115.36" cy="310.19" r="2.3" fill="#ff8c34"/><circle cx="119.40" cy="310.02" r="2.3" fill="#ff8c34"/><circle cx="123.40" cy="309.85" r="2.3" fill="#ff8c34"/><circle cx="127.36" cy="309.69" r="2.3" fill="#ff8c34"/><circle cx="131.28" cy="309.53" r="2.3" fill="#ff8c34"/><circle cx="135.16" cy="309.37" r="2.3" fill="#ff8c34"/><circle cx="139.01" cy="309.21" r="2.3" fill="#ff8c34"/><circle cx="142.82" cy="309.06" r="2.3" fill="#ff8c34"/><circle cx="146.59" cy="308.90" r="2.3" fill="#ff8c34"/><circle cx="150.33" cy="308.75" r="2.3" fill="#ff8c34"/><circle cx="154.04" cy="308.60" r="2.3" fill="#ff8c34"/><circle cx="157.71" cy="308.44" r="2.3" fill="#ff8c34"/><circle cx="161.36" cy="308.29" r="2.3" fill="#ff8c34"/><circle cx="164.97" cy="308.15" r="2.3" fill="#ff8c34"/><circle cx="168.55" cy="308.00" r="2.3" fill="#ff8c34"/><circle cx="172.11" cy="307.85" r="2.3" fill="#ff8c34"/><circle cx="175.63" cy="307.71" r="2.3" fill="#ff8c34"/><circle cx="179.13" cy="307.56" r="2.3" fill="#ff8c34"/><circle cx="182.60" cy="307.42" r="2.3" fill="#ff8c34"/><circle cx="186.05" cy="307.28" r="2.3" fill="#ff8c34"/><circle cx="189.47" cy="307.14" r="2.3" fill="#ff8c34"/><circle cx="192.86" cy="307.00" r="2.3" fill="#ff8c34"/><circle cx="196.23" cy="306.86" r="2.3" fill="#ff8c34"/><circle cx="199.58" cy="306.72" r="2.3" fill="#ff8c34"/><circle cx="202.90" cy="306.59" r="2.3" fill="#ff8c34"/><circle cx="206.19" cy="306.45" r="2.3" fill="#ff8c34"/><circle cx="209.47" cy="306.32" r="2.3" fill="#ff8c34"/><circle cx="212.72" cy="306.18" r="2.3" fill="#ff8c34"/><circle cx="215.95" cy="306.05" r="2.3" fill="#ff8c34"/><circle cx="219.16" cy="305.92" r="2.3" fill="#ff8c34"/><circle cx="222.35" cy="305.79" r="2.3" fill="#ff8c34"/><circle cx="225.52" cy="305.66" r="2.3" fill="#ff8c34"/><circle cx="228.67" cy="305.53" r="2.3" fill="#ff8c34"/><circle cx="231.80" cy="305.40" r="2.3" fill="#ff8c34"/><polyline points="85.80,282.40 90.17,282.31 94.49,282.22 98.76,282.12 102.98,282.04 107.15,281.95 111.28,281.86 115.36,281.77 119.40,281.69 123.40,281.60 127.36,281.52 131.28,281.43 135.16,281.35 139.01,281.27 142.82,281.19 146.59,281.11 150.33,281.03 154.04,280.95 157.71,280.87 161.36,280.80 164.97,280.72 168.55,280.64 172.11,280.57 175.63,280.49 179.13,280.42 182.60,280.34 186.05,280.27 189.47,280.20 192.86,280.13 196.23,280.06 199.58,279.98 202.90,279.91 206.19,279.84 209.47,279.77 212.72,279.71 215.95,279.64 219.16,279.57 222.35,279.50 225.52,279.43 228.67,279.37 231.80,279.30" fill="none" stroke="#8b45ff" stroke-width="1.4" stroke-linejoin="round" stroke-linecap="round" /><circle cx="85.80" cy="282.40" r="2.3" fill="#8b45ff"/><circle cx="90.17" cy="282.31" r="2.3" fill="#8b45ff"/><circle cx="94.49" cy="282.22" r="2.3" fill="#8b45ff"/><circle cx="98.76" cy="282.12" r="2.3" fill="#8b45ff"/><circle cx="102.98" cy="282.04" r="2.3" fill="#8b45ff"/><circle cx="107.15" cy="281.95" r="2.3" fill="#8b45ff"/><circle cx="111.28" cy="281.86" r="2.3" fill="#8b45ff"/><circle cx="115.36" cy="281.77" r="2.3" fill="#8b45ff"/><circle cx="119.40" cy="281.69" r="2.3" fill="#8b45ff"/><circle cx="123.40" cy="281.60" r="2.3" fill="#8b45ff"/><circle cx="127.36" cy="281.52" r="2.3" fill="#8b45ff"/><circle cx="131.28" cy="281.43" r="2.3" fill="#8b45ff"/><circle cx="135.16" cy="281.35" r="2.3" fill="#8b45ff"/><circle cx="139.01" cy="281.27" r="2.3" fill="#8b45ff"/><circle cx="142.82" cy="281.19" r="2.3" fill="#8b45ff"/><circle cx="146.59" cy="281.11" r="2.3" fill="#8b45ff"/><circle cx="150.33" cy="281.03" r="2.3" fill="#8b45ff"/><circle cx="154.04" cy="280.95" r="2.3" fill="#8b45ff"/><circle cx="157.71" cy="280.87" r="2.3" fill="#8b45ff"/><circle cx="161.36" cy="280.80" r="2.3" fill="#8b45ff"/><circle cx="164.97" cy="280.72" r="2.3" fill="#8b45ff"/><circle cx="168.55" cy="280.64" r="2.3" fill="#8b45ff"/><circle cx="172.11" cy="280.57" r="2.3" fill="#8b45ff"/><circle cx="175.63" cy="280.49" r="2.3" fill="#8b45ff"/><circle cx="179.13" cy="280.42" r="2.3" fill="#8b45ff"/><circle cx="182.60" cy="280.34" r="2.3" fill="#8b45ff"/><circle cx="186.05" cy="280.27" r="2.3" fill="#8b45ff"/><circle cx="189.47" cy="280.20" r="2.3" fill="#8b45ff"/><circle cx="192.86" cy="280.13" r="2.3" fill="#8b45ff"/><circle cx="196.23" cy="280.06" r="2.3" fill="#8b45ff"/><circle cx="199.58" cy="279.98" r="2.3" fill="#8b45ff"/><circle cx="202.90" cy="279.91" r="2.3" fill="#8b45ff"/><circle cx="206.19" cy="279.84" r="2.3" fill="#8b45ff"/><circle cx="209.47" cy="279.77" r="2.3" fill="#8b45ff"/><circle cx="212.72" cy="279.71" r="2.3" fill="#8b45ff"/><circle cx="215.95" cy="279.64" r="2.3" fill="#8b45ff"/><circle cx="219.16" cy="279.57" r="2.3" fill="#8b45ff"/><circle cx="222.35" cy="279.50" r="2.3" fill="#8b45ff"/><circle cx="225.52" cy="279.43" r="2.3" fill="#8b45ff"/><circle cx="228.67" cy="279.37" r="2.3" fill="#8b45ff"/><circle cx="231.80" cy="279.30" r="2.3" fill="#8b45ff"/><line x1="86.00" y1="372.70" x2="231.00" y2="343.60" stroke="#f3141a" stroke-width="1.9"/><line x1="86.00" y1="350.10" x2="231.00" y2="330.80" stroke="#f3141a" stroke-width="1.9"/><line x1="85.80" y1="311.70" x2="231.50" y2="305.70" stroke="#f3141a" stroke-width="1.9"/><line x1="85.80" y1="282.70" x2="231.50" y2="279.60" stroke="#f3141a" stroke-width="1.9"/><line x1="51.00" y1="447.00" x2="51.00" y2="443.80" stroke="#000" stroke-width="1.2"/><line x1="51.00" y1="257.50" x2="51.00" y2="260.70" stroke="#000" stroke-width="1.2"/><line x1="158.00" y1="447.00" x2="158.00" y2="443.80" stroke="#000" stroke-width="1.2"/><line x1="158.00" y1="257.50" x2="158.00" y2="260.70" stroke="#000" stroke-width="1.2"/><line x1="265.00" y1="447.00" x2="265.00" y2="443.80" stroke="#000" stroke-width="1.2"/><line x1="265.00" y1="257.50" x2="265.00" y2="260.70" stroke="#000" stroke-width="1.2"/><line x1="104.50" y1="447.00" x2="104.50" y2="445.00" stroke="#000" stroke-width="1.2"/><line x1="104.50" y1="257.50" x2="104.50" y2="259.50" stroke="#000" stroke-width="1.2"/><line x1="211.50" y1="447.00" x2="211.50" y2="445.00" stroke="#000" stroke-width="1.2"/><line x1="211.50" y1="257.50" x2="211.50" y2="259.50" stroke="#000" stroke-width="1.2"/><line x1="51.00" y1="265.40" x2="54.20" y2="265.40" stroke="#000" stroke-width="1.2"/><line x1="265.00" y1="265.40" x2="261.80" y2="265.40" stroke="#000" stroke-width="1.2"/><line x1="51.00" y1="312.77" x2="54.20" y2="312.77" stroke="#000" stroke-width="1.2"/><line x1="265.00" y1="312.77" x2="261.80" y2="312.77" stroke="#000" stroke-width="1.2"/><line x1="51.00" y1="360.15" x2="54.20" y2="360.15" stroke="#000" stroke-width="1.2"/><line x1="265.00" y1="360.15" x2="261.80" y2="360.15" stroke="#000" stroke-width="1.2"/><line x1="51.00" y1="407.52" x2="54.20" y2="407.52" stroke="#000" stroke-width="1.2"/><line x1="265.00" y1="407.52" x2="261.80" y2="407.52" stroke="#000" stroke-width="1.2"/><line x1="51.00" y1="289.08" x2="53.00" y2="289.08" stroke="#000" stroke-width="1.2"/><line x1="265.00" y1="289.08" x2="263.00" y2="289.08" stroke="#000" stroke-width="1.2"/><line x1="51.00" y1="336.46" x2="53.00" y2="336.46" stroke="#000" stroke-width="1.2"/><line x1="265.00" y1="336.46" x2="263.00" y2="336.46" stroke="#000" stroke-width="1.2"/><line x1="51.00" y1="383.83" x2="53.00" y2="383.83" stroke="#000" stroke-width="1.2"/><line x1="265.00" y1="383.83" x2="263.00" y2="383.83" stroke="#000" stroke-width="1.2"/><line x1="51.00" y1="431.21" x2="53.00" y2="431.21" stroke="#000" stroke-width="1.2"/><line x1="265.00" y1="431.21" x2="263.00" y2="431.21" stroke="#000" stroke-width="1.2"/><rect x="51" y="257.5" width="214" height="189.5" fill="none" stroke="#000" stroke-width="1.6"/><text x="51.00" y="462.10" font-size="14.2" text-anchor="middle" textLength="18.6" lengthAdjust="spacingAndGlyphs" fill="#111" stroke="#111" stroke-width="0.35">0.9</text><text x="158.00" y="462.10" font-size="14.2" text-anchor="middle" textLength="18.6" lengthAdjust="spacingAndGlyphs" fill="#111" stroke="#111" stroke-width="0.35">1.2</text><text x="265.00" y="462.10" font-size="14.2" text-anchor="middle" textLength="18.6" lengthAdjust="spacingAndGlyphs" fill="#111" stroke="#111" stroke-width="0.35">1.5</text><text x="49.10" y="270.60" font-size="15" text-anchor="end" fill="#111" stroke="#111" stroke-width="0.35">−18</text><text x="49.10" y="317.97" font-size="15" text-anchor="end" fill="#111" stroke="#111" stroke-width="0.35">−21</text><text x="49.10" y="365.35" font-size="15" text-anchor="end" fill="#111" stroke="#111" stroke-width="0.35">−24</text><text x="49.10" y="412.72" font-size="15" text-anchor="end" fill="#111" stroke="#111" stroke-width="0.35">−27</text><text x="108.8" y="479.6" font-size="14.7" fill="#111" stroke="#111" stroke-width="0.2"><tspan font-style="italic">E</tspan><tspan font-size="10.5" dy="-5.6">0.5</tspan><tspan dy="5.6"> (MV/cm)</tspan><tspan font-size="10.5" dy="-5.6">0.5</tspan></text><text transform="translate(16.8,352.6) rotate(-90)" x="0" y="0" font-size="14.2" text-anchor="middle" fill="#111" stroke="#111" stroke-width="0.2" textLength="57.5" lengthAdjust="spacing">ln(<tspan font-style="italic">J</tspan><tspan font-size="9.2" dy="3.4">FP</tspan><tspan dy="-3.4">/</tspan><tspan font-style="italic">E</tspan>)</text><text x="51.20" y="477.80" font-size="17" text-anchor="start" textLength="16.5" lengthAdjust="spacingAndGlyphs" fill="#1a1a1a" stroke="#1a1a1a" stroke-width="0.3">(c)</text><text x="250.60" y="369.80" font-size="10.4" text-anchor="end" textLength="61" lengthAdjust="spacingAndGlyphs" fill="#1a1a1a" stroke="#1a1a1a" stroke-width="0.3">Before stress</text><text x="250.60" y="385.20" font-size="10.4" text-anchor="end" textLength="95.4" lengthAdjust="spacingAndGlyphs" fill="#1a1a1a" stroke="#1a1a1a" stroke-width="0.3">GaN-on-GaN HEMTs</text><polyline points="352.80,375.93 356.36,374.24 359.89,372.78 363.37,371.43 366.82,370.65 370.23,368.88 373.60,367.93 376.94,366.48 380.24,365.66 383.52,364.92 386.76,363.35 389.97,362.87 393.15,361.71 396.30,361.05 399.42,360.01 402.52,358.78 405.59,358.40 408.63,357.34 411.65,356.31 414.64,355.60 417.61,355.27 420.56,354.58 423.48,353.82 426.38,353.06 429.25,352.57 432.11,351.93 434.94,351.67 437.76,350.47 440.55,350.39 443.33,349.84 446.08,348.72 448.82,348.67 451.53,347.91 454.23,347.44 456.91,346.42 459.58,345.90 462.22,345.36 464.85,345.25 467.47,344.45 470.07,343.81 472.65,343.41 475.21,342.89 477.76,342.34 480.30,342.01 482.82,342.18 485.33,341.47 487.82,341.62 490.29,340.85 492.76,340.59 495.21,340.49 497.65,340.02 500.07,339.95 502.48,340.21 504.88,340.03 507.27,339.87 509.64,339.63 512.00,339.69" fill="none" stroke="#7c7c7c" stroke-width="2.6" stroke-linejoin="round" stroke-linecap="round" /><circle cx="352.80" cy="375.93" r="1.95" fill="#7c7c7c"/><circle cx="356.36" cy="374.24" r="1.95" fill="#7c7c7c"/><circle cx="359.89" cy="372.78" r="1.95" fill="#7c7c7c"/><circle cx="363.37" cy="371.43" r="1.95" fill="#7c7c7c"/><circle cx="366.82" cy="370.65" r="1.95" fill="#7c7c7c"/><circle cx="370.23" cy="368.88" r="1.95" fill="#7c7c7c"/><circle cx="373.60" cy="367.93" r="1.95" fill="#7c7c7c"/><circle cx="376.94" cy="366.48" r="1.95" fill="#7c7c7c"/><circle cx="380.24" cy="365.66" r="1.95" fill="#7c7c7c"/><circle cx="383.52" cy="364.92" r="1.95" fill="#7c7c7c"/><circle cx="386.76" cy="363.35" r="1.95" fill="#7c7c7c"/><circle cx="389.97" cy="362.87" r="1.95" fill="#7c7c7c"/><circle cx="393.15" cy="361.71" r="1.95" fill="#7c7c7c"/><circle cx="396.30" cy="361.05" r="1.95" fill="#7c7c7c"/><circle cx="399.42" cy="360.01" r="1.95" fill="#7c7c7c"/><circle cx="402.52" cy="358.78" r="1.95" fill="#7c7c7c"/><circle cx="405.59" cy="358.40" r="1.95" fill="#7c7c7c"/><circle cx="408.63" cy="357.34" r="1.95" fill="#7c7c7c"/><circle cx="411.65" cy="356.31" r="1.95" fill="#7c7c7c"/><circle cx="414.64" cy="355.60" r="1.95" fill="#7c7c7c"/><circle cx="417.61" cy="355.27" r="1.95" fill="#7c7c7c"/><circle cx="420.56" cy="354.58" r="1.95" fill="#7c7c7c"/><circle cx="423.48" cy="353.82" r="1.95" fill="#7c7c7c"/><circle cx="426.38" cy="353.06" r="1.95" fill="#7c7c7c"/><circle cx="429.25" cy="352.57" r="1.95" fill="#7c7c7c"/><circle cx="432.11" cy="351.93" r="1.95" fill="#7c7c7c"/><circle cx="434.94" cy="351.67" r="1.95" fill="#7c7c7c"/><circle cx="437.76" cy="350.47" r="1.95" fill="#7c7c7c"/><circle cx="440.55" cy="350.39" r="1.95" fill="#7c7c7c"/><circle cx="443.33" cy="349.84" r="1.95" fill="#7c7c7c"/><circle cx="446.08" cy="348.72" r="1.95" fill="#7c7c7c"/><circle cx="448.82" cy="348.67" r="1.95" fill="#7c7c7c"/><circle cx="451.53" cy="347.91" r="1.95" fill="#7c7c7c"/><circle cx="454.23" cy="347.44" r="1.95" fill="#7c7c7c"/><circle cx="456.91" cy="346.42" r="1.95" fill="#7c7c7c"/><circle cx="459.58" cy="345.90" r="1.95" fill="#7c7c7c"/><circle cx="462.22" cy="345.36" r="1.95" fill="#7c7c7c"/><circle cx="464.85" cy="345.25" r="1.95" fill="#7c7c7c"/><circle cx="467.47" cy="344.45" r="1.95" fill="#7c7c7c"/><circle cx="470.07" cy="343.81" r="1.95" fill="#7c7c7c"/><circle cx="472.65" cy="343.41" r="1.95" fill="#7c7c7c"/><circle cx="475.21" cy="342.89" r="1.95" fill="#7c7c7c"/><circle cx="477.76" cy="342.34" r="1.95" fill="#7c7c7c"/><circle cx="480.30" cy="342.01" r="1.95" fill="#7c7c7c"/><circle cx="482.82" cy="342.18" r="1.95" fill="#7c7c7c"/><circle cx="485.33" cy="341.47" r="1.95" fill="#7c7c7c"/><circle cx="487.82" cy="341.62" r="1.95" fill="#7c7c7c"/><circle cx="490.29" cy="340.85" r="1.95" fill="#7c7c7c"/><circle cx="492.76" cy="340.59" r="1.95" fill="#7c7c7c"/><circle cx="495.21" cy="340.49" r="1.95" fill="#7c7c7c"/><circle cx="497.65" cy="340.02" r="1.95" fill="#7c7c7c"/><circle cx="500.07" cy="339.95" r="1.95" fill="#7c7c7c"/><circle cx="502.48" cy="340.21" r="1.95" fill="#7c7c7c"/><circle cx="504.88" cy="340.03" r="1.95" fill="#7c7c7c"/><circle cx="507.27" cy="339.87" r="1.95" fill="#7c7c7c"/><circle cx="509.64" cy="339.63" r="1.95" fill="#7c7c7c"/><circle cx="512.00" cy="339.69" r="1.95" fill="#7c7c7c"/><polyline points="352.80,354.01 356.36,352.81 359.89,352.00 363.37,350.60 366.82,350.18 370.23,349.11 373.60,348.50 376.94,347.65 380.24,346.68 383.52,345.82 386.76,345.76 389.97,344.56 393.15,344.17 396.30,343.46 399.42,342.83 402.52,342.54 405.59,342.12 408.63,341.04 411.65,340.74 414.64,339.92 417.61,339.54 420.56,338.87 423.48,338.17 426.38,337.64 429.25,337.15 432.11,337.12 434.94,336.33 437.76,335.63 440.55,335.62 443.33,335.19 446.08,334.32 448.82,333.61 451.53,333.16 454.23,332.61 456.91,332.32 459.58,331.69 462.22,331.36 464.85,330.97 467.47,330.80 470.07,330.66 472.65,330.27 475.21,329.87 477.76,329.78 480.30,329.79 482.82,329.58 485.33,329.37 487.82,328.95 490.29,328.87 492.76,329.10 495.21,328.26 497.65,328.26 500.07,328.08 502.48,327.98 504.88,327.27 507.27,327.04 509.64,326.77 512.00,326.63" fill="none" stroke="#1ba2ef" stroke-width="2.6" stroke-linejoin="round" stroke-linecap="round" /><circle cx="352.80" cy="354.01" r="1.95" fill="#1ba2ef"/><circle cx="356.36" cy="352.81" r="1.95" fill="#1ba2ef"/><circle cx="359.89" cy="352.00" r="1.95" fill="#1ba2ef"/><circle cx="363.37" cy="350.60" r="1.95" fill="#1ba2ef"/><circle cx="366.82" cy="350.18" r="1.95" fill="#1ba2ef"/><circle cx="370.23" cy="349.11" r="1.95" fill="#1ba2ef"/><circle cx="373.60" cy="348.50" r="1.95" fill="#1ba2ef"/><circle cx="376.94" cy="347.65" r="1.95" fill="#1ba2ef"/><circle cx="380.24" cy="346.68" r="1.95" fill="#1ba2ef"/><circle cx="383.52" cy="345.82" r="1.95" fill="#1ba2ef"/><circle cx="386.76" cy="345.76" r="1.95" fill="#1ba2ef"/><circle cx="389.97" cy="344.56" r="1.95" fill="#1ba2ef"/><circle cx="393.15" cy="344.17" r="1.95" fill="#1ba2ef"/><circle cx="396.30" cy="343.46" r="1.95" fill="#1ba2ef"/><circle cx="399.42" cy="342.83" r="1.95" fill="#1ba2ef"/><circle cx="402.52" cy="342.54" r="1.95" fill="#1ba2ef"/><circle cx="405.59" cy="342.12" r="1.95" fill="#1ba2ef"/><circle cx="408.63" cy="341.04" r="1.95" fill="#1ba2ef"/><circle cx="411.65" cy="340.74" r="1.95" fill="#1ba2ef"/><circle cx="414.64" cy="339.92" r="1.95" fill="#1ba2ef"/><circle cx="417.61" cy="339.54" r="1.95" fill="#1ba2ef"/><circle cx="420.56" cy="338.87" r="1.95" fill="#1ba2ef"/><circle cx="423.48" cy="338.17" r="1.95" fill="#1ba2ef"/><circle cx="426.38" cy="337.64" r="1.95" fill="#1ba2ef"/><circle cx="429.25" cy="337.15" r="1.95" fill="#1ba2ef"/><circle cx="432.11" cy="337.12" r="1.95" fill="#1ba2ef"/><circle cx="434.94" cy="336.33" r="1.95" fill="#1ba2ef"/><circle cx="437.76" cy="335.63" r="1.95" fill="#1ba2ef"/><circle cx="440.55" cy="335.62" r="1.95" fill="#1ba2ef"/><circle cx="443.33" cy="335.19" r="1.95" fill="#1ba2ef"/><circle cx="446.08" cy="334.32" r="1.95" fill="#1ba2ef"/><circle cx="448.82" cy="333.61" r="1.95" fill="#1ba2ef"/><circle cx="451.53" cy="333.16" r="1.95" fill="#1ba2ef"/><circle cx="454.23" cy="332.61" r="1.95" fill="#1ba2ef"/><circle cx="456.91" cy="332.32" r="1.95" fill="#1ba2ef"/><circle cx="459.58" cy="331.69" r="1.95" fill="#1ba2ef"/><circle cx="462.22" cy="331.36" r="1.95" fill="#1ba2ef"/><circle cx="464.85" cy="330.97" r="1.95" fill="#1ba2ef"/><circle cx="467.47" cy="330.80" r="1.95" fill="#1ba2ef"/><circle cx="470.07" cy="330.66" r="1.95" fill="#1ba2ef"/><circle cx="472.65" cy="330.27" r="1.95" fill="#1ba2ef"/><circle cx="475.21" cy="329.87" r="1.95" fill="#1ba2ef"/><circle cx="477.76" cy="329.78" r="1.95" fill="#1ba2ef"/><circle cx="480.30" cy="329.79" r="1.95" fill="#1ba2ef"/><circle cx="482.82" cy="329.58" r="1.95" fill="#1ba2ef"/><circle cx="485.33" cy="329.37" r="1.95" fill="#1ba2ef"/><circle cx="487.82" cy="328.95" r="1.95" fill="#1ba2ef"/><circle cx="490.29" cy="328.87" r="1.95" fill="#1ba2ef"/><circle cx="492.76" cy="329.10" r="1.95" fill="#1ba2ef"/><circle cx="495.21" cy="328.26" r="1.95" fill="#1ba2ef"/><circle cx="497.65" cy="328.26" r="1.95" fill="#1ba2ef"/><circle cx="500.07" cy="328.08" r="1.95" fill="#1ba2ef"/><circle cx="502.48" cy="327.98" r="1.95" fill="#1ba2ef"/><circle cx="504.88" cy="327.27" r="1.95" fill="#1ba2ef"/><circle cx="507.27" cy="327.04" r="1.95" fill="#1ba2ef"/><circle cx="509.64" cy="326.77" r="1.95" fill="#1ba2ef"/><circle cx="512.00" cy="326.63" r="1.95" fill="#1ba2ef"/><polyline points="352.80,323.56 356.36,323.31 359.89,322.61 363.37,322.01 366.82,320.82 370.23,320.25 373.60,320.18 376.94,319.82 380.24,319.07 383.52,318.72 386.76,317.90 389.97,317.77 393.15,317.77 396.30,317.33 399.42,316.98 402.52,316.70 405.59,315.84 408.63,315.38 411.65,315.04 414.64,314.93 417.61,314.67 420.56,314.48 423.48,313.96 426.38,313.55 429.25,313.28 432.11,312.73 434.94,312.47 437.76,311.80 440.55,312.04 443.33,311.38 446.08,311.60 448.82,311.16 451.53,310.69 454.23,310.34 456.91,310.21 459.58,310.27 462.22,310.13 464.85,309.53 467.47,309.34 470.07,309.50 472.65,309.40 475.21,309.17 477.76,308.98 480.30,309.20 482.82,308.74 485.33,308.91 487.82,308.98 490.29,309.27 492.76,308.98 495.21,309.07 497.65,308.70 500.07,308.45 502.48,308.37 504.88,308.78 507.27,308.51 509.64,308.15 512.00,307.87" fill="none" stroke="#ff8c34" stroke-width="2.6" stroke-linejoin="round" stroke-linecap="round" /><circle cx="352.80" cy="323.56" r="1.95" fill="#ff8c34"/><circle cx="356.36" cy="323.31" r="1.95" fill="#ff8c34"/><circle cx="359.89" cy="322.61" r="1.95" fill="#ff8c34"/><circle cx="363.37" cy="322.01" r="1.95" fill="#ff8c34"/><circle cx="366.82" cy="320.82" r="1.95" fill="#ff8c34"/><circle cx="370.23" cy="320.25" r="1.95" fill="#ff8c34"/><circle cx="373.60" cy="320.18" r="1.95" fill="#ff8c34"/><circle cx="376.94" cy="319.82" r="1.95" fill="#ff8c34"/><circle cx="380.24" cy="319.07" r="1.95" fill="#ff8c34"/><circle cx="383.52" cy="318.72" r="1.95" fill="#ff8c34"/><circle cx="386.76" cy="317.90" r="1.95" fill="#ff8c34"/><circle cx="389.97" cy="317.77" r="1.95" fill="#ff8c34"/><circle cx="393.15" cy="317.77" r="1.95" fill="#ff8c34"/><circle cx="396.30" cy="317.33" r="1.95" fill="#ff8c34"/><circle cx="399.42" cy="316.98" r="1.95" fill="#ff8c34"/><circle cx="402.52" cy="316.70" r="1.95" fill="#ff8c34"/><circle cx="405.59" cy="315.84" r="1.95" fill="#ff8c34"/><circle cx="408.63" cy="315.38" r="1.95" fill="#ff8c34"/><circle cx="411.65" cy="315.04" r="1.95" fill="#ff8c34"/><circle cx="414.64" cy="314.93" r="1.95" fill="#ff8c34"/><circle cx="417.61" cy="314.67" r="1.95" fill="#ff8c34"/><circle cx="420.56" cy="314.48" r="1.95" fill="#ff8c34"/><circle cx="423.48" cy="313.96" r="1.95" fill="#ff8c34"/><circle cx="426.38" cy="313.55" r="1.95" fill="#ff8c34"/><circle cx="429.25" cy="313.28" r="1.95" fill="#ff8c34"/><circle cx="432.11" cy="312.73" r="1.95" fill="#ff8c34"/><circle cx="434.94" cy="312.47" r="1.95" fill="#ff8c34"/><circle cx="437.76" cy="311.80" r="1.95" fill="#ff8c34"/><circle cx="440.55" cy="312.04" r="1.95" fill="#ff8c34"/><circle cx="443.33" cy="311.38" r="1.95" fill="#ff8c34"/><circle cx="446.08" cy="311.60" r="1.95" fill="#ff8c34"/><circle cx="448.82" cy="311.16" r="1.95" fill="#ff8c34"/><circle cx="451.53" cy="310.69" r="1.95" fill="#ff8c34"/><circle cx="454.23" cy="310.34" r="1.95" fill="#ff8c34"/><circle cx="456.91" cy="310.21" r="1.95" fill="#ff8c34"/><circle cx="459.58" cy="310.27" r="1.95" fill="#ff8c34"/><circle cx="462.22" cy="310.13" r="1.95" fill="#ff8c34"/><circle cx="464.85" cy="309.53" r="1.95" fill="#ff8c34"/><circle cx="467.47" cy="309.34" r="1.95" fill="#ff8c34"/><circle cx="470.07" cy="309.50" r="1.95" fill="#ff8c34"/><circle cx="472.65" cy="309.40" r="1.95" fill="#ff8c34"/><circle cx="475.21" cy="309.17" r="1.95" fill="#ff8c34"/><circle cx="477.76" cy="308.98" r="1.95" fill="#ff8c34"/><circle cx="480.30" cy="309.20" r="1.95" fill="#ff8c34"/><circle cx="482.82" cy="308.74" r="1.95" fill="#ff8c34"/><circle cx="485.33" cy="308.91" r="1.95" fill="#ff8c34"/><circle cx="487.82" cy="308.98" r="1.95" fill="#ff8c34"/><circle cx="490.29" cy="309.27" r="1.95" fill="#ff8c34"/><circle cx="492.76" cy="308.98" r="1.95" fill="#ff8c34"/><circle cx="495.21" cy="309.07" r="1.95" fill="#ff8c34"/><circle cx="497.65" cy="308.70" r="1.95" fill="#ff8c34"/><circle cx="500.07" cy="308.45" r="1.95" fill="#ff8c34"/><circle cx="502.48" cy="308.37" r="1.95" fill="#ff8c34"/><circle cx="504.88" cy="308.78" r="1.95" fill="#ff8c34"/><circle cx="507.27" cy="308.51" r="1.95" fill="#ff8c34"/><circle cx="509.64" cy="308.15" r="1.95" fill="#ff8c34"/><circle cx="512.00" cy="307.87" r="1.95" fill="#ff8c34"/><polyline points="352.80,285.60 356.38,285.51 359.92,285.13 363.42,284.80 366.88,284.89 370.30,284.87 373.69,284.19 377.04,283.87 380.36,283.92 383.65,283.82 386.91,283.85 390.13,283.37 393.32,283.66 396.49,283.48 399.62,283.19 402.73,282.85 405.81,283.26 408.87,282.67 411.90,282.89 414.90,282.35 417.88,282.20 420.84,282.44 423.77,281.97 426.68,282.29 429.57,281.82 432.43,281.45 435.28,281.30 438.10,281.26 440.91,281.22 443.69,281.17 446.46,280.18 449.20,279.92 451.93,279.50 454.64,279.92 457.33,279.34 460.00,279.39 462.66,279.62 465.30,280.29 467.92,281.13 470.52,281.44 473.12,281.41 475.69,281.58 478.25,281.43 480.79,280.82 483.32,280.45 485.84,280.45 488.34,279.48 490.82,278.27 493.30,278.48 495.75,278.35 498.20,278.56 500.63,278.77 503.05,278.85 505.46,278.95 507.85,279.38 510.23,279.67 512.60,280.32" fill="none" stroke="#8b45ff" stroke-width="2.6" stroke-linejoin="round" stroke-linecap="round" /><circle cx="352.80" cy="285.60" r="1.95" fill="#8b45ff"/><circle cx="356.38" cy="285.51" r="1.95" fill="#8b45ff"/><circle cx="359.92" cy="285.13" r="1.95" fill="#8b45ff"/><circle cx="363.42" cy="284.80" r="1.95" fill="#8b45ff"/><circle cx="366.88" cy="284.89" r="1.95" fill="#8b45ff"/><circle cx="370.30" cy="284.87" r="1.95" fill="#8b45ff"/><circle cx="373.69" cy="284.19" r="1.95" fill="#8b45ff"/><circle cx="377.04" cy="283.87" r="1.95" fill="#8b45ff"/><circle cx="380.36" cy="283.92" r="1.95" fill="#8b45ff"/><circle cx="383.65" cy="283.82" r="1.95" fill="#8b45ff"/><circle cx="386.91" cy="283.85" r="1.95" fill="#8b45ff"/><circle cx="390.13" cy="283.37" r="1.95" fill="#8b45ff"/><circle cx="393.32" cy="283.66" r="1.95" fill="#8b45ff"/><circle cx="396.49" cy="283.48" r="1.95" fill="#8b45ff"/><circle cx="399.62" cy="283.19" r="1.95" fill="#8b45ff"/><circle cx="402.73" cy="282.85" r="1.95" fill="#8b45ff"/><circle cx="405.81" cy="283.26" r="1.95" fill="#8b45ff"/><circle cx="408.87" cy="282.67" r="1.95" fill="#8b45ff"/><circle cx="411.90" cy="282.89" r="1.95" fill="#8b45ff"/><circle cx="414.90" cy="282.35" r="1.95" fill="#8b45ff"/><circle cx="417.88" cy="282.20" r="1.95" fill="#8b45ff"/><circle cx="420.84" cy="282.44" r="1.95" fill="#8b45ff"/><circle cx="423.77" cy="281.97" r="1.95" fill="#8b45ff"/><circle cx="426.68" cy="282.29" r="1.95" fill="#8b45ff"/><circle cx="429.57" cy="281.82" r="1.95" fill="#8b45ff"/><circle cx="432.43" cy="281.45" r="1.95" fill="#8b45ff"/><circle cx="435.28" cy="281.30" r="1.95" fill="#8b45ff"/><circle cx="438.10" cy="281.26" r="1.95" fill="#8b45ff"/><circle cx="440.91" cy="281.22" r="1.95" fill="#8b45ff"/><circle cx="443.69" cy="281.17" r="1.95" fill="#8b45ff"/><circle cx="446.46" cy="280.18" r="1.95" fill="#8b45ff"/><circle cx="449.20" cy="279.92" r="1.95" fill="#8b45ff"/><circle cx="451.93" cy="279.50" r="1.95" fill="#8b45ff"/><circle cx="454.64" cy="279.92" r="1.95" fill="#8b45ff"/><circle cx="457.33" cy="279.34" r="1.95" fill="#8b45ff"/><circle cx="460.00" cy="279.39" r="1.95" fill="#8b45ff"/><circle cx="462.66" cy="279.62" r="1.95" fill="#8b45ff"/><circle cx="465.30" cy="280.29" r="1.95" fill="#8b45ff"/><circle cx="467.92" cy="281.13" r="1.95" fill="#8b45ff"/><circle cx="470.52" cy="281.44" r="1.95" fill="#8b45ff"/><circle cx="473.12" cy="281.41" r="1.95" fill="#8b45ff"/><circle cx="475.69" cy="281.58" r="1.95" fill="#8b45ff"/><circle cx="478.25" cy="281.43" r="1.95" fill="#8b45ff"/><circle cx="480.79" cy="280.82" r="1.95" fill="#8b45ff"/><circle cx="483.32" cy="280.45" r="1.95" fill="#8b45ff"/><circle cx="485.84" cy="280.45" r="1.95" fill="#8b45ff"/><circle cx="488.34" cy="279.48" r="1.95" fill="#8b45ff"/><circle cx="490.82" cy="278.27" r="1.95" fill="#8b45ff"/><circle cx="493.30" cy="278.48" r="1.95" fill="#8b45ff"/><circle cx="495.75" cy="278.35" r="1.95" fill="#8b45ff"/><circle cx="498.20" cy="278.56" r="1.95" fill="#8b45ff"/><circle cx="500.63" cy="278.77" r="1.95" fill="#8b45ff"/><circle cx="503.05" cy="278.85" r="1.95" fill="#8b45ff"/><circle cx="505.46" cy="278.95" r="1.95" fill="#8b45ff"/><circle cx="507.85" cy="279.38" r="1.95" fill="#8b45ff"/><circle cx="510.23" cy="279.67" r="1.95" fill="#8b45ff"/><circle cx="512.60" cy="280.32" r="1.95" fill="#8b45ff"/><line x1="353.00" y1="371.20" x2="511.00" y2="337.30" stroke="#f3141a" stroke-width="1.6"/><line x1="353.00" y1="351.90" x2="511.00" y2="325.30" stroke="#f3141a" stroke-width="1.6"/><line x1="353.00" y1="322.10" x2="511.00" y2="307.30" stroke="#f3141a" stroke-width="1.6"/><line x1="353.00" y1="284.70" x2="511.60" y2="279.70" stroke="#f3141a" stroke-width="1.6"/><line x1="323.00" y1="446.60" x2="323.00" y2="443.40" stroke="#000" stroke-width="1.2"/><line x1="323.00" y1="257.00" x2="323.00" y2="260.20" stroke="#000" stroke-width="1.2"/><line x1="414.71" y1="446.60" x2="414.71" y2="443.40" stroke="#000" stroke-width="1.2"/><line x1="414.71" y1="257.00" x2="414.71" y2="260.20" stroke="#000" stroke-width="1.2"/><line x1="506.43" y1="446.60" x2="506.43" y2="443.40" stroke="#000" stroke-width="1.2"/><line x1="506.43" y1="257.00" x2="506.43" y2="260.20" stroke="#000" stroke-width="1.2"/><line x1="368.86" y1="446.60" x2="368.86" y2="444.60" stroke="#000" stroke-width="1.2"/><line x1="368.86" y1="257.00" x2="368.86" y2="259.00" stroke="#000" stroke-width="1.2"/><line x1="460.57" y1="446.60" x2="460.57" y2="444.60" stroke="#000" stroke-width="1.2"/><line x1="460.57" y1="257.00" x2="460.57" y2="259.00" stroke="#000" stroke-width="1.2"/><line x1="323.00" y1="304.40" x2="326.20" y2="304.40" stroke="#000" stroke-width="1.2"/><line x1="537.00" y1="304.40" x2="533.80" y2="304.40" stroke="#000" stroke-width="1.2"/><line x1="323.00" y1="367.60" x2="326.20" y2="367.60" stroke="#000" stroke-width="1.2"/><line x1="537.00" y1="367.60" x2="533.80" y2="367.60" stroke="#000" stroke-width="1.2"/><line x1="323.00" y1="430.80" x2="326.20" y2="430.80" stroke="#000" stroke-width="1.2"/><line x1="537.00" y1="430.80" x2="533.80" y2="430.80" stroke="#000" stroke-width="1.2"/><line x1="323.00" y1="272.80" x2="325.00" y2="272.80" stroke="#000" stroke-width="1.2"/><line x1="537.00" y1="272.80" x2="535.00" y2="272.80" stroke="#000" stroke-width="1.2"/><line x1="323.00" y1="336.00" x2="325.00" y2="336.00" stroke="#000" stroke-width="1.2"/><line x1="537.00" y1="336.00" x2="535.00" y2="336.00" stroke="#000" stroke-width="1.2"/><line x1="323.00" y1="399.20" x2="325.00" y2="399.20" stroke="#000" stroke-width="1.2"/><line x1="537.00" y1="399.20" x2="535.00" y2="399.20" stroke="#000" stroke-width="1.2"/><rect x="323" y="257" width="214" height="189.60000000000002" fill="none" stroke="#000" stroke-width="1.6"/><text x="323.00" y="461.70" font-size="14.2" text-anchor="middle" textLength="18.6" lengthAdjust="spacingAndGlyphs" fill="#111" stroke="#111" stroke-width="0.35">0.9</text><text x="414.71" y="461.70" font-size="14.2" text-anchor="middle" textLength="18.6" lengthAdjust="spacingAndGlyphs" fill="#111" stroke="#111" stroke-width="0.35">1.2</text><text x="506.43" y="461.70" font-size="14.2" text-anchor="middle" textLength="18.6" lengthAdjust="spacingAndGlyphs" fill="#111" stroke="#111" stroke-width="0.35">1.5</text><text x="321.10" y="309.60" font-size="15" text-anchor="end" fill="#111" stroke="#111" stroke-width="0.35">−18</text><text x="321.10" y="372.80" font-size="15" text-anchor="end" fill="#111" stroke="#111" stroke-width="0.35">−20</text><text x="321.10" y="436.00" font-size="15" text-anchor="end" fill="#111" stroke="#111" stroke-width="0.35">−22</text><text x="381" y="479.6" font-size="14.7" fill="#111" stroke="#111" stroke-width="0.2"><tspan font-style="italic">E</tspan><tspan font-size="10.5" dy="-5.6">0.5</tspan><tspan dy="5.6"> (MV/cm)</tspan><tspan font-size="10.5" dy="-5.6">0.5</tspan></text><text transform="translate(288.8,351.8) rotate(-90)" x="0" y="0" font-size="14.2" text-anchor="middle" fill="#111" stroke="#111" stroke-width="0.2" textLength="57.5" lengthAdjust="spacing">ln(<tspan font-style="italic">J</tspan><tspan font-size="9.2" dy="3.4">FP</tspan><tspan dy="-3.4">/</tspan><tspan font-style="italic">E</tspan>)</text><text x="322.80" y="477.80" font-size="17" text-anchor="start" textLength="18.4" lengthAdjust="spacingAndGlyphs" fill="#1a1a1a" stroke="#1a1a1a" stroke-width="0.3">(d)</text><text x="523.00" y="366.20" font-size="10.4" text-anchor="end" textLength="53.8" lengthAdjust="spacingAndGlyphs" fill="#1a1a1a" stroke="#1a1a1a" stroke-width="0.3">After stress</text><text x="523.00" y="381.20" font-size="10.4" text-anchor="end" textLength="95.2" lengthAdjust="spacingAndGlyphs" fill="#1a1a1a" stroke="#1a1a1a" stroke-width="0.3">GaN-on-GaN HEMTs</text><rect x="98.60" y="143.00" width="154.70" height="48.40" fill="#000"/><rect x="96.20" y="140.60" width="154.10" height="47.80" fill="#fff" stroke="#d2d2d2" stroke-width="1.3"/><line x1="96.80" y1="148.80" x2="126.40" y2="148.80" stroke="#c9c9c9" stroke-width="1.1"/><circle cx="111.3" cy="148.8" r="2.0" fill="#6f6f6f"/><text x="129.00" y="152.69" font-size="10.8" text-anchor="start" textLength="26.2" lengthAdjust="spacingAndGlyphs" fill="#1a1a1a" stroke="#1a1a1a" stroke-width="0.3">300 K</text><line x1="96.80" y1="164.90" x2="126.40" y2="164.90" stroke="#a275ff" stroke-width="1.3"/><circle cx="111.3" cy="164.9" r="2.2" fill="#ffcfaa"/><text x="129.00" y="168.79" font-size="10.8" text-anchor="start" textLength="26.2" lengthAdjust="spacingAndGlyphs" fill="#1a1a1a" stroke="#1a1a1a" stroke-width="0.3">420 K</text><line x1="96.80" y1="180.30" x2="126.40" y2="180.30" stroke="#f3141a" stroke-width="1.8"/><text x="129.00" y="184.19" font-size="10.8" text-anchor="start" textLength="61.1" lengthAdjust="spacingAndGlyphs" fill="#1a1a1a" stroke="#1a1a1a" stroke-width="0.3">Linear Fitting</text><line x1="191.00" y1="148.80" x2="219.30" y2="148.80" stroke="#b5e2fb" stroke-width="1.1"/><circle cx="205" cy="148.8" r="2.0" fill="#1ba2ef"/><text x="222.90" y="152.69" font-size="10.8" text-anchor="start" textLength="25" lengthAdjust="spacingAndGlyphs" fill="#1a1a1a" stroke="#1a1a1a" stroke-width="0.3">360 K</text><line x1="191.00" y1="164.90" x2="219.30" y2="164.90" stroke="#c6a6ff" stroke-width="1.1"/><circle cx="205" cy="164.9" r="2.0" fill="#8b45ff"/><text x="222.90" y="168.79" font-size="10.8" text-anchor="start" textLength="25" lengthAdjust="spacingAndGlyphs" fill="#1a1a1a" stroke="#1a1a1a" stroke-width="0.3">480 K</text><rect x="363.10" y="145.00" width="161.30" height="44.50" fill="#000"/><rect x="360.70" y="142.60" width="160.70" height="43.90" fill="#fff" stroke="#d2d2d2" stroke-width="1.3"/><line x1="362.30" y1="150.30" x2="388.40" y2="150.30" stroke="#b4b4b4" stroke-width="1.3"/><circle cx="375.3" cy="150.3" r="2.1" fill="#6e6e6e"/><text x="392.30" y="154.44" font-size="11.5" text-anchor="start" fill="#111" stroke="#111" stroke-width="0.35">300 K</text><line x1="362.30" y1="164.50" x2="388.40" y2="164.50" stroke="#ffc9a0" stroke-width="1.4"/><circle cx="375.3" cy="164.5" r="2.2" fill="#ff8c34"/><text x="392.30" y="168.64" font-size="11.5" text-anchor="start" fill="#111" stroke="#111" stroke-width="0.35">420 K</text><line x1="362.30" y1="178.60" x2="388.40" y2="178.60" stroke="#f3141a" stroke-width="1.8"/><text x="392.30" y="182.74" font-size="11.5" text-anchor="start" fill="#111" stroke="#111" stroke-width="0.35">Linear Fitting</text><line x1="460.40" y1="150.30" x2="486.00" y2="150.30" stroke="#a8dcfa" stroke-width="1.4"/><circle cx="472.8" cy="150.3" r="2.0" fill="#1ba2ef"/><text x="489.00" y="154.44" font-size="11.5" text-anchor="start" fill="#111" stroke="#111" stroke-width="0.35">360 K</text><line x1="460.40" y1="164.50" x2="486.00" y2="164.50" stroke="#c8a8ff" stroke-width="1.4"/><circle cx="472.8" cy="164.5" r="2.0" fill="#8b45ff"/><text x="489.00" y="168.64" font-size="11.5" text-anchor="start" fill="#111" stroke="#111" stroke-width="0.35">480 K</text><rect x="93.10" y="393.40" width="160.70" height="44.50" fill="#000"/><rect x="90.70" y="391.00" width="160.10" height="43.90" fill="#fff" stroke="#d2d2d2" stroke-width="1.3"/><line x1="92.30" y1="399.20" x2="118.40" y2="399.20" stroke="#b4b4b4" stroke-width="1.3"/><circle cx="105.2" cy="399.2" r="2.1" fill="#6e6e6e"/><text x="121.80" y="403.34" font-size="11.5" text-anchor="start" fill="#111" stroke="#111" stroke-width="0.35">300 K</text><line x1="92.30" y1="413.60" x2="118.40" y2="413.60" stroke="#ffc9a0" stroke-width="1.4"/><circle cx="105.2" cy="413.6" r="2.2" fill="#ff8c34"/><text x="121.80" y="417.74" font-size="11.5" text-anchor="start" fill="#111" stroke="#111" stroke-width="0.35">420 K</text><line x1="92.30" y1="427.90" x2="118.40" y2="427.90" stroke="#f3141a" stroke-width="1.8"/><text x="121.80" y="432.04" font-size="11.5" text-anchor="start" fill="#111" stroke="#111" stroke-width="0.35">Linear Fitting</text><line x1="189.50" y1="399.20" x2="216.40" y2="399.20" stroke="#a8dcfa" stroke-width="1.4"/><circle cx="202.9" cy="399.2" r="2.0" fill="#1ba2ef"/><text x="219.60" y="403.34" font-size="11.5" text-anchor="start" fill="#111" stroke="#111" stroke-width="0.35">360 K</text><line x1="189.50" y1="413.60" x2="216.40" y2="413.60" stroke="#c8a8ff" stroke-width="1.4"/><circle cx="202.9" cy="413.6" r="2.0" fill="#8b45ff"/><text x="219.60" y="417.74" font-size="11.5" text-anchor="start" fill="#111" stroke="#111" stroke-width="0.35">480 K</text><rect x="365.60" y="391.90" width="160.80" height="44.80" fill="#000"/><rect x="363.20" y="389.50" width="160.20" height="44.20" fill="#fff" stroke="#d2d2d2" stroke-width="1.3"/><line x1="364.80" y1="397.50" x2="390.50" y2="397.50" stroke="#b4b4b4" stroke-width="1.3"/><circle cx="377.7" cy="397.5" r="2.1" fill="#6e6e6e"/><text x="394.30" y="401.64" font-size="11.5" text-anchor="start" fill="#111" stroke="#111" stroke-width="0.35">300 K</text><line x1="364.80" y1="411.60" x2="390.50" y2="411.60" stroke="#ffc9a0" stroke-width="1.4"/><circle cx="377.7" cy="411.6" r="2.2" fill="#ff8c34"/><text x="394.30" y="415.74" font-size="11.5" text-anchor="start" fill="#111" stroke="#111" stroke-width="0.35">420 K</text><line x1="364.80" y1="425.90" x2="390.50" y2="425.90" stroke="#f3141a" stroke-width="1.8"/><text x="394.30" y="430.04" font-size="11.5" text-anchor="start" fill="#111" stroke="#111" stroke-width="0.35">Linear Fitting</text><line x1="462.00" y1="397.50" x2="487.90" y2="397.50" stroke="#a8dcfa" stroke-width="1.4"/><circle cx="474.8" cy="397.5" r="2.0" fill="#1ba2ef"/><text x="491.60" y="401.64" font-size="11.5" text-anchor="start" fill="#111" stroke="#111" stroke-width="0.35">360 K</text><line x1="462.00" y1="411.60" x2="487.90" y2="411.60" stroke="#c8a8ff" stroke-width="1.4"/><circle cx="474.8" cy="411.6" r="2.0" fill="#8b45ff"/><text x="491.60" y="415.74" font-size="11.5" text-anchor="start" fill="#111" stroke="#111" stroke-width="0.35">480 K</text></svg></body></html>
